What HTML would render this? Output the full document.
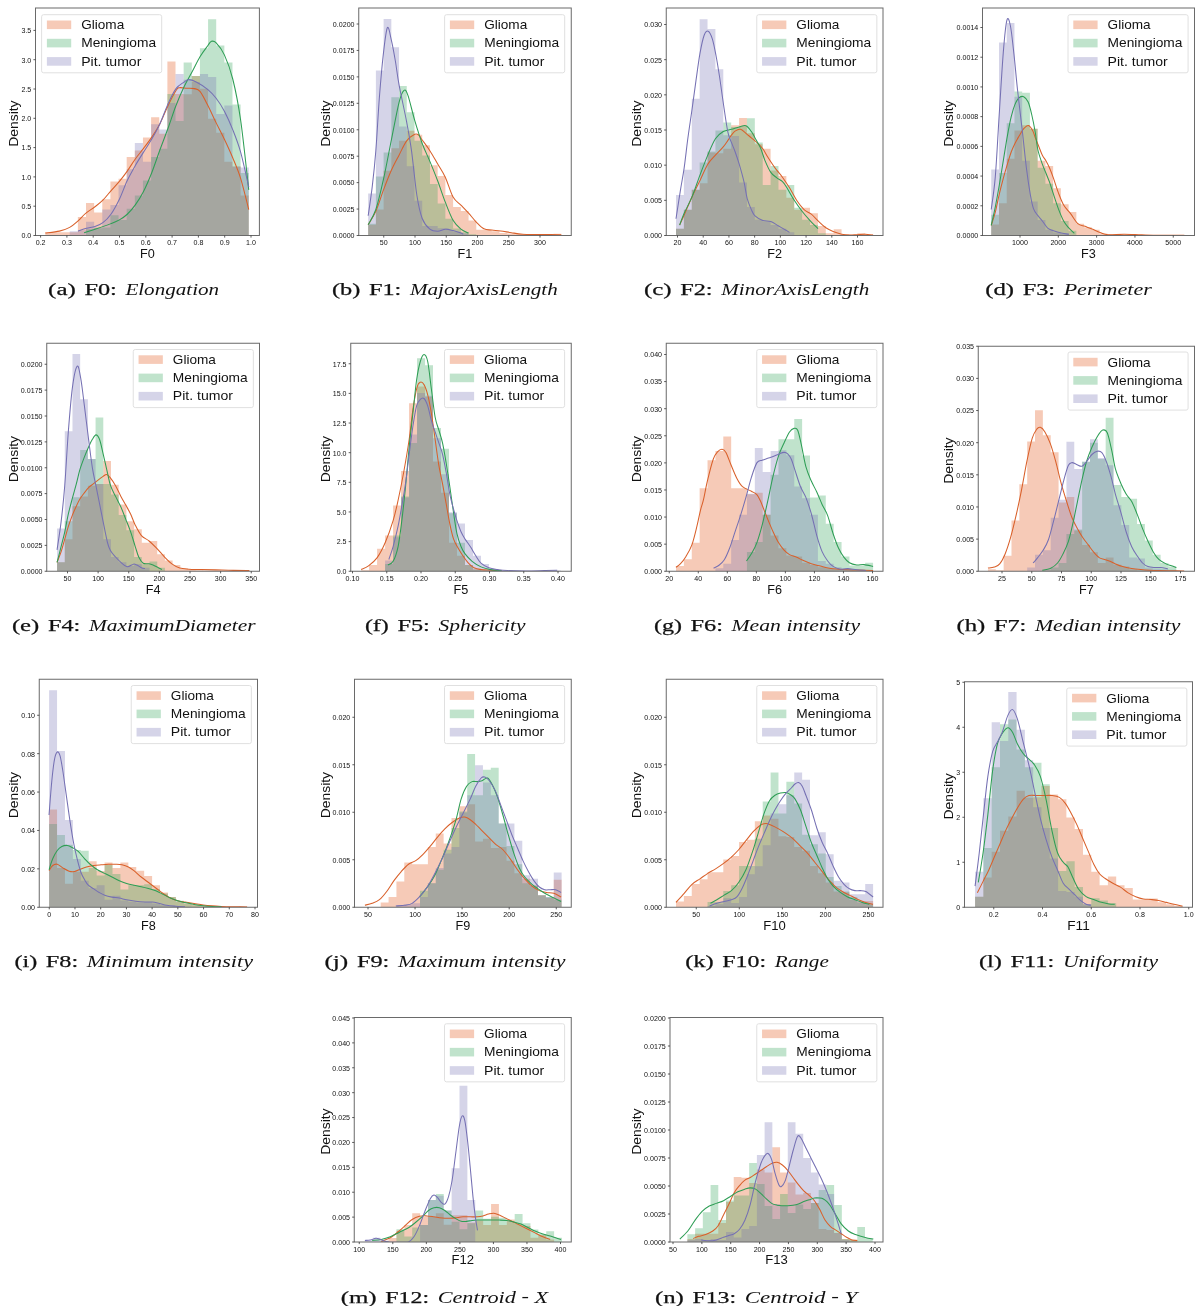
<!DOCTYPE html>
<html><head><meta charset="utf-8"><style>
html,body{margin:0;padding:0;background:#fff;overflow:hidden;}
svg{display:block;will-change:transform;}
text{font-family:"Liberation Sans", sans-serif;fill:#111;}
text.cb{font-family:"Liberation Serif", serif;font-weight:normal;stroke:#111;stroke-width:0.25px;}
text.ci{font-family:"Liberation Serif", serif;font-style:italic;}
</style></head><body>
<svg width="1200" height="1306" viewBox="0 0 1200 1306">
<rect width="1200" height="1306" fill="#fff"/>
<clipPath id="ca"><rect x="35.5" y="8" width="223.9" height="227.5"/></clipPath>
<g clip-path="url(#ca)">
<path d="M45.31 232.25H53.45V235.5H45.31ZM53.45 232.25H61.59V235.5H53.45ZM61.59 232.25H69.73V235.5H61.59ZM69.73 232.25H77.86V235.5H69.73ZM77.86 217.06H86V235.5H77.86ZM86 203H94.14V235.5H86ZM94.14 212.38H102.28V235.5H94.14ZM102.28 199.25H110.41V235.5H102.28ZM110.41 181.44H118.55V235.5H110.41ZM118.55 178.63H126.69V235.5H118.55ZM126.69 157.06H134.83V235.5H126.69ZM134.83 150.5H142.96V235.5H134.83ZM142.96 137.38H151.1V235.5H142.96ZM151.1 117.13H159.24V235.5H151.1ZM159.24 133.63H167.38V235.5H159.24ZM167.38 61.44H175.51V235.5H167.38ZM175.51 94.06H183.65V235.5H175.51ZM183.65 94.25H191.79V235.5H183.65ZM191.79 76.06H199.93V235.5H191.79ZM199.93 88.63H208.06V235.5H199.93ZM208.06 118.63H216.2V235.5H208.06ZM216.2 132.69H224.34V235.5H216.2ZM224.34 161.75H232.48V235.5H224.34ZM232.48 166.44H240.61V235.5H232.48ZM240.61 195.5H248.75V235.5H240.61Z" fill="#e14e12" fill-opacity="0.3"/>
<path d="M86 229.25H94.14V235.5H86ZM94.14 228.31H102.28V235.5H94.14ZM102.28 227.38H110.41V235.5H102.28ZM110.41 215.19H118.55V235.5H110.41ZM118.55 219.88H126.69V235.5H118.55ZM126.69 208.63H134.83V235.5H126.69ZM134.83 195.5H142.96V235.5H134.83ZM142.96 180.5H151.1V235.5H142.96ZM151.1 157.06H159.24V235.5H151.1ZM159.24 148.63H167.38V235.5H159.24ZM167.38 94.06H175.51V235.5H167.38ZM175.51 121.06H183.65V235.5H175.51ZM183.65 62.38H191.79V235.5H183.65ZM191.79 76.06H199.93V235.5H191.79ZM199.93 48.31H208.06V235.5H199.93ZM208.06 19.25H216.2V235.5H208.06ZM216.2 45.5H224.34V235.5H216.2ZM224.34 62.38H232.48V235.5H224.34ZM232.48 104.56H240.61V235.5H232.48ZM240.61 173H248.75V235.5H240.61Z" fill="#2da255" fill-opacity="0.3"/>
<path d="M69.73 231.13H77.86V235.5H69.73ZM77.86 230.19H86V235.5H77.86ZM86 221.75H94.14V235.5H86ZM94.14 227.38H102.28V235.5H94.14ZM102.28 209.56H110.41V235.5H102.28ZM110.41 204.88H118.55V235.5H110.41ZM118.55 185.19H126.69V235.5H118.55ZM126.69 169.25H134.83V235.5H126.69ZM134.83 143H142.96V235.5H134.83ZM142.96 161.75H151.1V235.5H142.96ZM151.1 124.25H159.24V235.5H151.1ZM159.24 129.5H167.38V235.5H159.24ZM167.38 103.06H175.51V235.5H167.38ZM175.51 74H183.65V235.5H175.51ZM183.65 79.81H191.79V235.5H183.65ZM191.79 82.06H199.93V235.5H191.79ZM199.93 74H208.06V235.5H199.93ZM208.06 77H216.2V235.5H208.06ZM216.2 113.94H224.34V235.5H216.2ZM224.34 105.5H232.48V235.5H224.34ZM232.48 166.44H240.61V235.5H232.48ZM240.61 167.38H248.75V235.5H240.61Z" fill="#7570b3" fill-opacity="0.3"/>
<path d="M45.31 233C47.66 232.69 55.31 232.06 59.38 231.13C63.44 230.19 66.56 229.1 69.69 227.38C72.81 225.66 75.47 223.16 78.13 220.81C80.78 218.47 82.81 215.66 85.63 213.31C88.44 210.97 92.13 208.94 95 206.75C97.88 204.56 100.22 202.84 102.88 200.19C105.53 197.53 108.19 193.94 110.94 190.81C113.69 187.69 116.66 184.72 119.38 181.44C122.09 178.16 124.59 174.88 127.25 171.13C129.91 167.38 132.63 162.69 135.31 158.94C138 155.19 140.66 152.22 143.38 148.63C146.09 145.03 148.91 141.44 151.63 137.38C154.34 133.31 156.94 129.56 159.69 124.25C162.44 118.94 165.41 111.13 168.13 105.5C170.84 99.88 174.13 93.47 176 90.5C177.88 87.53 177.56 88.06 179.38 87.69C181.19 87.31 184.38 88.09 186.88 88.25C189.38 88.41 192.19 88.09 194.38 88.63C196.56 89.16 197.75 88.63 200 91.44C202.25 94.25 205.22 100.34 207.88 105.5C210.53 110.66 213.19 116.75 215.94 122.38C218.69 128 221.56 133.31 224.38 139.25C227.19 145.19 230.09 151.44 232.81 158C235.53 164.56 238.03 170.03 240.69 178.63C243.35 187.22 247.41 204.41 248.75 209.56" fill="none" stroke="#d9602a" stroke-width="1.05" stroke-linejoin="round"/>
<path d="M84.13 232.63C85.94 232.06 90.53 230.75 95 229.25C99.47 227.75 106.88 225.19 110.94 223.63C115 222.06 116.66 221.44 119.38 219.88C122.09 218.31 124.59 216.75 127.25 214.25C129.91 211.75 132.63 208.63 135.31 204.88C138 201.13 140.66 197.06 143.38 191.75C146.09 186.44 148.91 179.88 151.63 173C154.34 166.13 156.94 158 159.69 150.5C162.44 143 165.41 135.5 168.13 128C170.84 120.5 173.34 112.38 176 105.5C178.66 98.63 181.38 92.38 184.06 86.75C186.75 81.13 189.47 76.75 192.13 71.75C194.78 66.75 197.38 61.13 200 56.75C202.63 52.38 206 48.06 207.88 45.5C209.75 42.94 209.91 41.84 211.25 41.38C212.59 40.91 213.75 40.44 215.94 42.69C218.13 44.94 221.56 48.78 224.38 54.88C227.19 60.97 230.09 68.31 232.81 79.25C235.53 90.19 238.03 102.06 240.69 120.5C243.35 138.94 247.41 178.31 248.75 189.88" fill="none" stroke="#2e9e55" stroke-width="1.05" stroke-linejoin="round"/>
<path d="M78.13 231.13C79.53 230.66 83.75 229.1 86.56 228.31C89.38 227.53 92.28 227.38 95 226.44C97.72 225.5 100.22 224.72 102.88 222.69C105.53 220.66 108.19 218.16 110.94 214.25C113.69 210.35 116.66 204.88 119.38 199.25C122.09 193.63 124.59 186.13 127.25 180.5C129.91 174.88 132.63 170.19 135.31 165.5C138 160.81 140.66 156.75 143.38 152.38C146.09 148 148.91 143.94 151.63 139.25C154.34 134.56 156.94 130.19 159.69 124.25C162.44 118.31 165.41 109.56 168.13 103.63C170.84 97.69 173.34 92.22 176 88.63C178.66 85.03 181.94 83.56 184.06 82.06C186.19 80.56 186.72 79.63 188.75 79.63C190.78 79.63 193.06 80.41 196.25 82.06C199.44 83.72 204.59 86.91 207.88 89.56C211.16 92.22 213.19 94.41 215.94 98C218.69 101.59 221.56 105.81 224.38 111.13C227.19 116.44 230.09 123 232.81 129.88C235.53 136.75 238.03 142.84 240.69 152.38C243.35 161.91 247.41 181.28 248.75 187.06" fill="none" stroke="#7570b3" stroke-width="1.05" stroke-linejoin="round"/>
</g>
<rect x="35.5" y="8" width="223.9" height="227.5" fill="none" stroke="#6a6a6a" stroke-width="1"/>
<text x="40.6" y="245" text-anchor="middle" font-size="6.4" textLength="9.86" lengthAdjust="spacingAndGlyphs">0.2</text>
<text x="66.9" y="245" text-anchor="middle" font-size="6.4" textLength="9.86" lengthAdjust="spacingAndGlyphs">0.3</text>
<text x="93.2" y="245" text-anchor="middle" font-size="6.4" textLength="9.86" lengthAdjust="spacingAndGlyphs">0.4</text>
<text x="119.5" y="245" text-anchor="middle" font-size="6.4" textLength="9.86" lengthAdjust="spacingAndGlyphs">0.5</text>
<text x="145.8" y="245" text-anchor="middle" font-size="6.4" textLength="9.86" lengthAdjust="spacingAndGlyphs">0.6</text>
<text x="172.1" y="245" text-anchor="middle" font-size="6.4" textLength="9.86" lengthAdjust="spacingAndGlyphs">0.7</text>
<text x="198.4" y="245" text-anchor="middle" font-size="6.4" textLength="9.86" lengthAdjust="spacingAndGlyphs">0.8</text>
<text x="224.7" y="245" text-anchor="middle" font-size="6.4" textLength="9.86" lengthAdjust="spacingAndGlyphs">0.9</text>
<text x="251" y="245" text-anchor="middle" font-size="6.4" textLength="9.86" lengthAdjust="spacingAndGlyphs">1.0</text>
<text x="31.3" y="238.35" text-anchor="end" font-size="6.4" textLength="9.86" lengthAdjust="spacingAndGlyphs">0.0</text>
<text x="31.3" y="209.05" text-anchor="end" font-size="6.4" textLength="9.86" lengthAdjust="spacingAndGlyphs">0.5</text>
<text x="31.3" y="179.75" text-anchor="end" font-size="6.4" textLength="9.86" lengthAdjust="spacingAndGlyphs">1.0</text>
<text x="31.3" y="150.45" text-anchor="end" font-size="6.4" textLength="9.86" lengthAdjust="spacingAndGlyphs">1.5</text>
<text x="31.3" y="121.15" text-anchor="end" font-size="6.4" textLength="9.86" lengthAdjust="spacingAndGlyphs">2.0</text>
<text x="31.3" y="91.85" text-anchor="end" font-size="6.4" textLength="9.86" lengthAdjust="spacingAndGlyphs">2.5</text>
<text x="31.3" y="62.55" text-anchor="end" font-size="6.4" textLength="9.86" lengthAdjust="spacingAndGlyphs">3.0</text>
<text x="31.3" y="33.25" text-anchor="end" font-size="6.4" textLength="9.86" lengthAdjust="spacingAndGlyphs">3.5</text>
<path d="M40.6 235.5v2.1M66.9 235.5v2.1M93.2 235.5v2.1M119.5 235.5v2.1M145.8 235.5v2.1M172.1 235.5v2.1M198.4 235.5v2.1M224.7 235.5v2.1M251 235.5v2.1M35.5 235.5h-2.1M35.5 206.2h-2.1M35.5 176.9h-2.1M35.5 147.6h-2.1M35.5 118.3h-2.1M35.5 89h-2.1M35.5 59.7h-2.1M35.5 30.4h-2.1" stroke="#333" stroke-width="0.8"/>
<text x="147.45" y="257.8" text-anchor="middle" font-size="13.4" textLength="14.77" lengthAdjust="spacingAndGlyphs">F0</text>
<text transform="translate(17.75 123.65) rotate(-90)" x="0" y="0" text-anchor="middle" font-size="13.4" textLength="46.38" lengthAdjust="spacingAndGlyphs">Density</text>
<rect x="41.6" y="14.7" width="120.1" height="58.1" rx="2" fill="#fff" fill-opacity="0.8" stroke="#dcdcdc" stroke-width="0.9"/>
<rect x="46.9" y="20.5" width="24.3" height="8.6" fill="#e14e12" fill-opacity="0.3"/>
<text x="81.2" y="29.2" font-size="12.9" textLength="43.07" lengthAdjust="spacingAndGlyphs">Glioma</text>
<rect x="46.9" y="38.8" width="24.3" height="8.6" fill="#2da255" fill-opacity="0.3"/>
<text x="81.2" y="47.4" font-size="12.9" textLength="74.86" lengthAdjust="spacingAndGlyphs">Meningioma</text>
<rect x="46.9" y="57.1" width="24.3" height="8.6" fill="#7570b3" fill-opacity="0.3"/>
<text x="81.2" y="65.6" font-size="12.9" textLength="60.17" lengthAdjust="spacingAndGlyphs">Pit. tumor</text>
<text class="cb" x="48.1" y="295" font-size="17.6" textLength="27.7" lengthAdjust="spacingAndGlyphs">(a)</text>
<text class="cb" x="84.4" y="295" font-size="17.6" textLength="32.4" lengthAdjust="spacingAndGlyphs">F0:</text>
<text class="ci" x="125.4" y="295" font-size="17.6" textLength="93.7" lengthAdjust="spacingAndGlyphs">Elongation</text>
<clipPath id="cb"><rect x="358.75" y="8" width="212.5" height="227.5"/></clipPath>
<g clip-path="url(#cb)">
<path d="M368.17 224.69H375.89V235.5H368.17ZM375.89 209.53H383.61V235.5H375.89ZM383.61 170.65H391.33V235.5H383.61ZM391.33 148.18H399.06V235.5H391.33ZM399.06 140.87H406.78V235.5H399.06ZM406.78 130.7H414.5V235.5H406.78ZM414.5 134.63H422.22V235.5H414.5ZM422.22 145.33H429.95V235.5H422.22ZM429.95 165.3H437.67V235.5H429.95ZM437.67 176H445.39V235.5H437.67ZM445.39 195.09H453.11V235.5H445.39ZM453.11 207.04H460.84V235.5H453.11ZM460.84 210.96H468.56V235.5H460.84ZM468.56 220.41H476.28V235.5H468.56ZM476.28 229.69H484V235.5H476.28ZM484 230.04H491.73V235.5H484ZM491.73 231.29H499.45V235.5H491.73ZM499.45 233.08H507.17V235.5H499.45ZM507.17 233.43H514.89V235.5H507.17ZM514.89 233.79H522.62V235.5H514.89ZM522.62 234.15H530.34V235.5H522.62ZM530.34 234.15H538.06V235.5H530.34ZM538.06 234.5H545.78V235.5H538.06ZM545.78 234.5H553.51V235.5H545.78ZM553.51 233.79H561.23V235.5H553.51Z" fill="#e14e12" fill-opacity="0.3"/>
<path d="M368.17 223.8H375.89V235.5H368.17ZM375.89 176.54H383.61V235.5H375.89ZM383.61 152.46H391.33V235.5H383.61ZM391.33 97.17H399.06V235.5H391.33ZM399.06 86.12H406.78V235.5H399.06ZM406.78 112.33H414.5V235.5H406.78ZM414.5 140.87H422.22V235.5H414.5ZM422.22 155.49H429.95V235.5H422.22ZM429.95 184.03H437.67V235.5H429.95ZM437.67 203.47H445.39V235.5H437.67ZM445.39 218.63H453.11V235.5H445.39ZM453.11 228.44H460.84V235.5H453.11ZM460.84 232.36H468.56V235.5H460.84ZM468.56 234.15H476.28V235.5H468.56Z" fill="#2da255" fill-opacity="0.3"/>
<path d="M368.17 193.48H375.89V235.5H368.17ZM375.89 70.42H383.61V235.5H375.89ZM383.61 19.06H391.33V235.5H383.61ZM391.33 47.24H399.06V235.5H391.33ZM399.06 126.6H406.78V235.5H399.06ZM406.78 166.2H414.5V235.5H406.78ZM414.5 200.79H422.22V235.5H414.5ZM422.22 226.12H429.95V235.5H422.22ZM429.95 226.12H437.67V235.5H429.95ZM437.67 228.26H445.39V235.5H437.67ZM445.39 230.04H453.11V235.5H445.39ZM453.11 231.83H460.84V235.5H453.11ZM460.84 233.61H468.56V235.5H460.84Z" fill="#7570b3" fill-opacity="0.3"/>
<path d="M368.17 224.69C369.44 222.46 373.28 217.11 375.83 211.32C378.39 205.52 380.92 196.75 383.5 189.92C386.09 183.08 388.77 176.09 391.35 170.3C393.94 164.5 396.46 160.04 399.02 155.14C401.58 150.23 404.07 144.35 406.69 140.87C409.3 137.39 412.72 135.25 414.71 134.27C416.71 133.29 417.39 134.03 418.64 134.98C419.89 135.94 420.33 137.36 422.21 139.98C424.08 142.59 427.29 146.67 429.87 150.68C432.46 154.69 435.14 159.6 437.72 164.05C440.31 168.51 442.83 171.93 445.39 177.43C447.95 182.93 450.47 192.44 453.06 197.05C455.65 201.66 458.32 202.4 460.91 205.08C463.49 207.75 466.02 210.28 468.58 213.1C471.13 215.92 473.69 219.4 476.25 222.02C478.8 224.63 481.33 227.46 483.91 228.8C486.5 230.13 488.97 229.69 491.76 230.04C494.56 230.4 497.41 230.49 500.68 230.94C503.95 231.38 507.81 232.18 511.38 232.72C514.95 233.25 517.92 233.85 522.08 234.15C526.24 234.44 531.59 234.44 536.35 234.5C541.1 234.56 546.45 234.44 550.62 234.5C554.78 234.56 559.53 234.8 561.32 234.86" fill="none" stroke="#d9602a" stroke-width="1.05" stroke-linejoin="round"/>
<path d="M368.17 224.69C369.44 222.17 373.28 217.11 375.83 209.53C378.39 201.95 380.92 190.81 383.5 179.21C386.09 167.62 388.77 152.76 391.35 139.98C393.94 127.2 396.91 110.79 399.02 102.52C401.13 94.26 402.53 91.59 404.01 90.4C405.5 89.21 406.15 90.4 407.94 95.39C409.72 100.38 412.34 112.33 414.71 120.36C417.09 128.39 419.68 136.71 422.21 143.54C424.73 150.38 427.29 155.14 429.87 161.38C432.46 167.62 435.14 174.16 437.72 181C440.31 187.83 442.83 195.86 445.39 202.4C447.95 208.94 450.47 215.78 453.06 220.23C455.65 224.69 458.32 227.01 460.91 229.15C463.49 231.29 467.3 232.42 468.58 233.08" fill="none" stroke="#2e9e55" stroke-width="1.05" stroke-linejoin="round"/>
<path d="M368.17 215.78C368.85 210.87 370.99 197.2 372.27 186.35C373.55 175.5 374.65 165.54 375.83 150.68C377.02 135.82 378.12 113.52 379.4 97.17C380.68 80.83 382.17 64.18 383.5 52.59C384.84 40.99 386.12 29.7 387.43 27.62C388.74 25.54 390.01 34.46 391.35 40.1C392.69 45.75 394.18 54.07 395.45 61.5C396.73 68.94 397.15 74.58 399.02 84.69C400.89 94.8 404.61 111.14 406.69 122.14C408.77 133.14 409.81 138.49 411.5 150.68C413.2 162.87 415.07 183.97 416.86 195.27C418.64 206.56 420.04 212.8 422.21 218.45C424.38 224.1 427.29 227.01 429.87 229.15C432.46 231.29 435.14 231.29 437.72 231.29C440.31 231.29 442.83 229.27 445.39 229.15C447.95 229.03 450.47 229.92 453.06 230.58C455.65 231.23 459.21 232.48 460.91 233.08C462.6 233.67 462.84 233.97 463.23 234.15" fill="none" stroke="#7570b3" stroke-width="1.05" stroke-linejoin="round"/>
</g>
<rect x="358.75" y="8" width="212.5" height="227.5" fill="none" stroke="#6a6a6a" stroke-width="1"/>
<text x="383.75" y="245" text-anchor="middle" font-size="6.4" textLength="7.89" lengthAdjust="spacingAndGlyphs">50</text>
<text x="415" y="245" text-anchor="middle" font-size="6.4" textLength="11.83" lengthAdjust="spacingAndGlyphs">100</text>
<text x="446.25" y="245" text-anchor="middle" font-size="6.4" textLength="11.83" lengthAdjust="spacingAndGlyphs">150</text>
<text x="477.5" y="245" text-anchor="middle" font-size="6.4" textLength="11.83" lengthAdjust="spacingAndGlyphs">200</text>
<text x="508.75" y="245" text-anchor="middle" font-size="6.4" textLength="11.83" lengthAdjust="spacingAndGlyphs">250</text>
<text x="540" y="245" text-anchor="middle" font-size="6.4" textLength="11.83" lengthAdjust="spacingAndGlyphs">300</text>
<text x="354.55" y="238.35" text-anchor="end" font-size="6.4" textLength="21.69" lengthAdjust="spacingAndGlyphs">0.0000</text>
<text x="354.55" y="211.91" text-anchor="end" font-size="6.4" textLength="21.69" lengthAdjust="spacingAndGlyphs">0.0025</text>
<text x="354.55" y="185.47" text-anchor="end" font-size="6.4" textLength="21.69" lengthAdjust="spacingAndGlyphs">0.0050</text>
<text x="354.55" y="159.04" text-anchor="end" font-size="6.4" textLength="21.69" lengthAdjust="spacingAndGlyphs">0.0075</text>
<text x="354.55" y="132.6" text-anchor="end" font-size="6.4" textLength="21.69" lengthAdjust="spacingAndGlyphs">0.0100</text>
<text x="354.55" y="106.16" text-anchor="end" font-size="6.4" textLength="21.69" lengthAdjust="spacingAndGlyphs">0.0125</text>
<text x="354.55" y="79.72" text-anchor="end" font-size="6.4" textLength="21.69" lengthAdjust="spacingAndGlyphs">0.0150</text>
<text x="354.55" y="53.29" text-anchor="end" font-size="6.4" textLength="21.69" lengthAdjust="spacingAndGlyphs">0.0175</text>
<text x="354.55" y="26.85" text-anchor="end" font-size="6.4" textLength="21.69" lengthAdjust="spacingAndGlyphs">0.0200</text>
<path d="M383.75 235.5v2.1M415 235.5v2.1M446.25 235.5v2.1M477.5 235.5v2.1M508.75 235.5v2.1M540 235.5v2.1M358.75 235.5h-2.1M358.75 209.06h-2.1M358.75 182.62h-2.1M358.75 156.19h-2.1M358.75 129.75h-2.1M358.75 103.31h-2.1M358.75 76.88h-2.1M358.75 50.44h-2.1M358.75 24h-2.1" stroke="#333" stroke-width="0.8"/>
<text x="465" y="257.8" text-anchor="middle" font-size="13.4" textLength="14.77" lengthAdjust="spacingAndGlyphs">F1</text>
<text transform="translate(329.5 123.65) rotate(-90)" x="0" y="0" text-anchor="middle" font-size="13.4" textLength="46.38" lengthAdjust="spacingAndGlyphs">Density</text>
<rect x="444.6" y="14.7" width="120.1" height="58.1" rx="2" fill="#fff" fill-opacity="0.8" stroke="#dcdcdc" stroke-width="0.9"/>
<rect x="449.9" y="20.5" width="24.3" height="8.6" fill="#e14e12" fill-opacity="0.3"/>
<text x="484.2" y="29.2" font-size="12.9" textLength="43.07" lengthAdjust="spacingAndGlyphs">Glioma</text>
<rect x="449.9" y="38.8" width="24.3" height="8.6" fill="#2da255" fill-opacity="0.3"/>
<text x="484.2" y="47.4" font-size="12.9" textLength="74.86" lengthAdjust="spacingAndGlyphs">Meningioma</text>
<rect x="449.9" y="57.1" width="24.3" height="8.6" fill="#7570b3" fill-opacity="0.3"/>
<text x="484.2" y="65.6" font-size="12.9" textLength="60.17" lengthAdjust="spacingAndGlyphs">Pit. tumor</text>
<text class="cb" x="331.9" y="295" font-size="17.6" textLength="28.4" lengthAdjust="spacingAndGlyphs">(b)</text>
<text class="cb" x="368.9" y="295" font-size="17.6" textLength="32.4" lengthAdjust="spacingAndGlyphs">F1:</text>
<text class="ci" x="409.9" y="295" font-size="17.6" textLength="147.9" lengthAdjust="spacingAndGlyphs">MajorAxisLength</text>
<clipPath id="cc"><rect x="666.25" y="8" width="216.75" height="227.5"/></clipPath>
<g clip-path="url(#cc)">
<path d="M675.99 228.71H683.87V235.5H675.99ZM683.87 209.63H691.76V235.5H683.87ZM691.76 189.65H699.64V235.5H691.76ZM699.64 183.3H707.53V235.5H699.64ZM707.53 152.41H715.41V235.5H707.53ZM715.41 153.32H723.29V235.5H715.41ZM723.29 148.78H731.18V235.5H723.29ZM731.18 125.17H739.06V235.5H731.18ZM739.06 117.9H746.94V235.5H739.06ZM746.94 133.34H754.83V235.5H746.94ZM754.83 144.24H762.71V235.5H754.83ZM762.71 148.78H770.6V235.5H762.71ZM770.6 170.58H778.48V235.5H770.6ZM778.48 176.03H786.36V235.5H778.48ZM786.36 197.83H794.25V235.5H786.36ZM794.25 209.63H802.13V235.5H794.25ZM802.13 207.82H810.01V235.5H802.13ZM810.01 213.27H817.9V235.5H810.01ZM817.9 225.98H825.78V235.5H817.9ZM825.78 233.25H833.67V235.5H825.78ZM833.67 229.25H841.55V235.5H833.67ZM841.55 234.16H849.43V235.5H841.55ZM849.43 234.7H857.32V235.5H849.43ZM857.32 233.25H865.2V235.5H857.32ZM865.2 234.16H873.08V235.5H865.2Z" fill="#e14e12" fill-opacity="0.3"/>
<path d="M675.99 228.71H683.87V235.5H675.99ZM683.87 209.63H691.76V235.5H683.87ZM691.76 189.65H699.64V235.5H691.76ZM699.64 162.41H707.53V235.5H699.64ZM707.53 151.51H715.41V235.5H707.53ZM715.41 130.62H723.29V235.5H715.41ZM723.29 122.44H731.18V235.5H723.29ZM731.18 126.98H739.06V235.5H731.18ZM739.06 126.07H746.94V235.5H739.06ZM746.94 118.26H754.83V235.5H746.94ZM754.83 142.42H762.71V235.5H754.83ZM762.71 185.11H770.6V235.5H762.71ZM770.6 166.04H778.48V235.5H770.6ZM778.48 189.65H786.36V235.5H778.48ZM786.36 185.11H794.25V235.5H786.36ZM794.25 207.82H802.13V235.5H794.25ZM802.13 219.63H810.01V235.5H802.13ZM810.01 225.08H817.9V235.5H810.01ZM817.9 233.25H825.78V235.5H817.9Z" fill="#2da255" fill-opacity="0.3"/>
<path d="M675.99 195.1H683.87V235.5H675.99ZM683.87 169.67H691.76V235.5H683.87ZM691.76 98.83H699.64V235.5H691.76ZM699.64 19.26H707.53V235.5H699.64ZM707.53 28.89H715.41V235.5H707.53ZM715.41 69.22H723.29V235.5H715.41ZM723.29 135.16H731.18V235.5H723.29ZM731.18 136.07H739.06V235.5H731.18ZM739.06 182.39H746.94V235.5H739.06ZM746.94 206.91H754.83V235.5H746.94ZM754.83 219.63H762.71V235.5H754.83ZM762.71 221.44H770.6V235.5H762.71ZM770.6 225.08H778.48V235.5H770.6ZM778.48 228.71H786.36V235.5H778.48ZM786.36 232.34H794.25V235.5H786.36Z" fill="#7570b3" fill-opacity="0.3"/>
<path d="M679.62 225.08C680.38 223.41 682.11 219.78 684.17 215.08C686.22 210.39 689.34 202.67 691.98 196.92C694.61 191.17 697.34 186.02 699.97 180.57C702.6 175.12 705.21 168.46 707.78 164.22C710.35 159.98 712.84 158.02 715.41 155.14C717.98 152.26 721.16 149.39 723.22 146.96C725.28 144.54 726.4 142.57 727.76 140.61C729.12 138.64 730.18 136.73 731.4 135.16C732.61 133.58 733.51 132.13 735.03 131.16C736.54 130.19 738.66 128.98 740.48 129.34C742.29 129.71 744.11 131.92 745.93 133.34C747.74 134.76 749.56 136.37 751.38 137.88C753.19 139.4 754.92 140.61 756.83 142.42C758.73 144.24 761 146.36 762.82 148.78C764.64 151.2 765.7 153.78 767.73 156.96C769.75 160.13 772.57 164.52 774.99 167.85C777.41 171.18 779.84 173.61 782.26 176.94C784.68 180.27 787.1 183.9 789.52 187.84C791.95 191.77 794.37 196.92 796.79 200.55C799.21 204.19 801.63 207.36 804.06 209.63C806.48 211.91 808.9 212.21 811.32 214.18C813.74 216.14 816.17 219.17 818.59 221.44C821.01 223.71 823.43 226.14 825.85 227.8C828.28 229.47 830.49 230.37 833.12 231.43C835.75 232.49 838.93 233.55 841.66 234.16C844.38 234.76 846.87 234.98 849.47 235.07C852.07 235.16 854.65 234.82 857.28 234.7C859.91 234.58 862.64 234.28 865.27 234.34C867.91 234.4 871.78 234.95 873.08 235.07" fill="none" stroke="#d9602a" stroke-width="1.05" stroke-linejoin="round"/>
<path d="M679.62 225.08C680.38 223.11 682.11 217.96 684.17 213.27C686.22 208.58 689.34 203.28 691.98 196.92C694.61 190.56 697.34 182.08 699.97 175.12C702.6 168.16 705.21 161.19 707.78 155.14C710.35 149.08 712.84 142.73 715.41 138.79C717.98 134.85 720.56 133.1 723.22 131.52C725.88 129.95 728.73 130.1 731.4 129.34C734.06 128.59 736.78 127.59 739.21 126.98C741.63 126.38 743.9 124.95 745.93 125.71C747.96 126.47 749.86 129.5 751.38 131.52C752.89 133.55 753.5 135.16 755.01 137.88C756.52 140.61 758.79 144.09 760.46 147.87C762.12 151.66 763.28 156.5 765 160.59C766.73 164.68 768.85 169.52 770.81 172.4C772.78 175.27 774.9 176.33 776.81 177.85C778.72 179.36 780.65 179.96 782.26 181.48C783.86 182.99 784.41 183.75 786.44 186.93C788.46 190.11 791.79 196.47 794.43 200.55C797.06 204.64 799.64 208.12 802.24 211.45C804.84 214.78 807.42 217.66 810.05 220.53C812.68 223.41 816.71 227.35 818.04 228.71" fill="none" stroke="#2e9e55" stroke-width="1.05" stroke-linejoin="round"/>
<path d="M675.99 218.72C676.75 213.87 679.17 198.13 680.53 189.65C681.89 181.18 682.95 176.33 684.17 167.85C685.38 159.38 686.5 148.48 687.8 138.79C689.1 129.1 690.61 119.41 691.98 109.73C693.34 100.04 694.64 90.05 695.97 80.66C697.3 71.28 698.61 60.98 699.97 53.41C701.33 45.84 702.78 38.94 704.15 35.25C705.51 31.55 706.78 30.65 708.14 31.25C709.51 31.86 711.02 34.88 712.32 38.88C713.62 42.88 714.74 48.87 715.95 55.23C717.17 61.59 718.38 69.16 719.59 77.03C720.8 84.9 721.86 93.38 723.22 102.46C724.58 111.54 726.4 124.86 727.76 131.52C729.12 138.18 730.18 139.09 731.4 142.42C732.61 145.75 733.73 147.87 735.03 151.51C736.33 155.14 737.69 159.07 739.21 164.22C740.72 169.37 742.78 176.63 744.11 182.39C745.44 188.14 745.99 194.19 747.2 198.74C748.41 203.28 750.08 206.76 751.38 209.63C752.68 212.51 753.1 214.18 755.01 215.99C756.92 217.81 760.19 219.63 762.82 220.53C765.46 221.44 768.18 220.53 770.81 221.44C773.45 222.35 776.02 224.47 778.62 225.98C781.23 227.5 784.62 229.47 786.44 230.52C788.25 231.58 789.01 232.04 789.52 232.34" fill="none" stroke="#7570b3" stroke-width="1.05" stroke-linejoin="round"/>
</g>
<rect x="666.25" y="8" width="216.75" height="227.5" fill="none" stroke="#6a6a6a" stroke-width="1"/>
<text x="677.5" y="245" text-anchor="middle" font-size="6.4" textLength="7.89" lengthAdjust="spacingAndGlyphs">20</text>
<text x="703.21" y="245" text-anchor="middle" font-size="6.4" textLength="7.89" lengthAdjust="spacingAndGlyphs">40</text>
<text x="728.93" y="245" text-anchor="middle" font-size="6.4" textLength="7.89" lengthAdjust="spacingAndGlyphs">60</text>
<text x="754.64" y="245" text-anchor="middle" font-size="6.4" textLength="7.89" lengthAdjust="spacingAndGlyphs">80</text>
<text x="780.36" y="245" text-anchor="middle" font-size="6.4" textLength="11.83" lengthAdjust="spacingAndGlyphs">100</text>
<text x="806.07" y="245" text-anchor="middle" font-size="6.4" textLength="11.83" lengthAdjust="spacingAndGlyphs">120</text>
<text x="831.79" y="245" text-anchor="middle" font-size="6.4" textLength="11.83" lengthAdjust="spacingAndGlyphs">140</text>
<text x="857.5" y="245" text-anchor="middle" font-size="6.4" textLength="11.83" lengthAdjust="spacingAndGlyphs">160</text>
<text x="662.05" y="238.35" text-anchor="end" font-size="6.4" textLength="17.74" lengthAdjust="spacingAndGlyphs">0.000</text>
<text x="662.05" y="203.18" text-anchor="end" font-size="6.4" textLength="17.74" lengthAdjust="spacingAndGlyphs">0.005</text>
<text x="662.05" y="168.02" text-anchor="end" font-size="6.4" textLength="17.74" lengthAdjust="spacingAndGlyphs">0.010</text>
<text x="662.05" y="132.85" text-anchor="end" font-size="6.4" textLength="17.74" lengthAdjust="spacingAndGlyphs">0.015</text>
<text x="662.05" y="97.68" text-anchor="end" font-size="6.4" textLength="17.74" lengthAdjust="spacingAndGlyphs">0.020</text>
<text x="662.05" y="62.52" text-anchor="end" font-size="6.4" textLength="17.74" lengthAdjust="spacingAndGlyphs">0.025</text>
<text x="662.05" y="27.35" text-anchor="end" font-size="6.4" textLength="17.74" lengthAdjust="spacingAndGlyphs">0.030</text>
<path d="M677.5 235.5v2.1M703.21 235.5v2.1M728.93 235.5v2.1M754.64 235.5v2.1M780.36 235.5v2.1M806.07 235.5v2.1M831.79 235.5v2.1M857.5 235.5v2.1M666.25 235.5h-2.1M666.25 200.33h-2.1M666.25 165.17h-2.1M666.25 130h-2.1M666.25 94.83h-2.1M666.25 59.67h-2.1M666.25 24.5h-2.1" stroke="#333" stroke-width="0.8"/>
<text x="774.62" y="257.8" text-anchor="middle" font-size="13.4" textLength="14.77" lengthAdjust="spacingAndGlyphs">F2</text>
<text transform="translate(641 123.65) rotate(-90)" x="0" y="0" text-anchor="middle" font-size="13.4" textLength="46.38" lengthAdjust="spacingAndGlyphs">Density</text>
<rect x="756.75" y="14.7" width="120.1" height="58.1" rx="2" fill="#fff" fill-opacity="0.8" stroke="#dcdcdc" stroke-width="0.9"/>
<rect x="762.05" y="20.5" width="24.3" height="8.6" fill="#e14e12" fill-opacity="0.3"/>
<text x="796.35" y="29.2" font-size="12.9" textLength="43.07" lengthAdjust="spacingAndGlyphs">Glioma</text>
<rect x="762.05" y="38.8" width="24.3" height="8.6" fill="#2da255" fill-opacity="0.3"/>
<text x="796.35" y="47.4" font-size="12.9" textLength="74.86" lengthAdjust="spacingAndGlyphs">Meningioma</text>
<rect x="762.05" y="57.1" width="24.3" height="8.6" fill="#7570b3" fill-opacity="0.3"/>
<text x="796.35" y="65.6" font-size="12.9" textLength="60.17" lengthAdjust="spacingAndGlyphs">Pit. tumor</text>
<text class="cb" x="643.9" y="295" font-size="17.6" textLength="27.7" lengthAdjust="spacingAndGlyphs">(c)</text>
<text class="cb" x="680.2" y="295" font-size="17.6" textLength="32.4" lengthAdjust="spacingAndGlyphs">F2:</text>
<text class="ci" x="721.2" y="295" font-size="17.6" textLength="148.1" lengthAdjust="spacingAndGlyphs">MinorAxisLength</text>
<clipPath id="cd"><rect x="982.5" y="8" width="212" height="227.5"/></clipPath>
<g clip-path="url(#cd)">
<path d="M991.23 224.54H998.97V235.5H991.23ZM998.97 203.24H1006.71V235.5H998.97ZM1006.71 158.87H1014.45V235.5H1006.71ZM1014.45 130.47H1022.18V235.5H1014.45ZM1022.18 125.15H1029.92V235.5H1022.18ZM1029.92 128.7H1037.66V235.5H1029.92ZM1037.66 160.64H1045.4V235.5H1037.66ZM1045.4 165.97H1053.14V235.5H1045.4ZM1053.14 188.16H1060.88V235.5H1053.14ZM1060.88 204.13H1068.62V235.5H1060.88ZM1068.62 212.12H1076.36V235.5H1068.62ZM1076.36 223.65H1084.09V235.5H1076.36ZM1084.09 227.2H1091.83V235.5H1084.09ZM1091.83 229.87H1099.57V235.5H1091.83ZM1099.57 233.42H1107.31V235.5H1099.57ZM1107.31 234.3H1115.05V235.5H1107.31ZM1115.05 234.66H1122.79V235.5H1115.05ZM1122.79 234.84H1130.53V235.5H1122.79ZM1130.53 235.01H1138.27V235.5H1130.53ZM1138.27 235.19H1146V235.5H1138.27ZM1146 235.19H1153.74V235.5H1146ZM1153.74 235.19H1161.48V235.5H1153.74ZM1161.48 235.19H1169.22V235.5H1161.48ZM1169.22 235.19H1176.96V235.5H1169.22ZM1176.96 235.01H1184.7V235.5H1176.96ZM1184.7 235.19H1192.44V235.5H1184.7Z" fill="#e14e12" fill-opacity="0.3"/>
<path d="M991.23 214.78H998.97V235.5H991.23ZM998.97 173.07H1006.71V235.5H998.97ZM1006.71 123.37H1014.45V235.5H1006.71ZM1014.45 91.42H1022.18V235.5H1014.45ZM1022.18 92.84H1029.92V235.5H1022.18ZM1029.92 128.7H1037.66V235.5H1029.92ZM1037.66 167.74H1045.4V235.5H1037.66ZM1045.4 183.72H1053.14V235.5H1045.4ZM1053.14 203.24H1060.88V235.5H1053.14ZM1060.88 220.99H1068.62V235.5H1060.88ZM1068.62 230.75H1076.36V235.5H1068.62Z" fill="#2da255" fill-opacity="0.3"/>
<path d="M991.23 169.52H998.97V235.5H991.23ZM998.97 42.61H1006.71V235.5H998.97ZM1006.71 23.09H1014.45V235.5H1006.71ZM1014.45 96.75H1022.18V235.5H1014.45ZM1022.18 160.64H1029.92V235.5H1022.18ZM1029.92 201.47H1037.66V235.5H1029.92ZM1037.66 220.11H1045.4V235.5H1037.66ZM1045.4 229.87H1053.14V235.5H1045.4ZM1053.14 232.53H1060.88V235.5H1053.14ZM1060.88 233.42H1068.62V235.5H1060.88Z" fill="#7570b3" fill-opacity="0.3"/>
<path d="M991.23 225.43C991.91 223.21 993.98 217.29 995.31 212.12C996.64 206.94 997.89 199.99 999.22 194.37C1000.55 188.75 1001.94 183.42 1003.3 178.39C1004.66 173.37 1006.05 168.63 1007.38 164.19C1008.71 159.76 1009.98 155.32 1011.29 151.77C1012.59 148.22 1013.86 145.56 1015.19 142.9C1016.52 140.23 1017.85 138.16 1019.27 135.8C1020.69 133.43 1022.17 130.41 1023.71 128.7C1025.25 126.98 1027.02 125.21 1028.5 125.5C1029.98 125.8 1031.46 128.46 1032.59 130.47C1033.71 132.48 1034.21 134.91 1035.25 137.57C1036.28 140.23 1037.61 143.49 1038.8 146.45C1039.98 149.4 1041.16 152.95 1042.35 155.32C1043.53 157.69 1044.71 158.57 1045.9 160.64C1047.08 162.72 1048.18 164.79 1049.45 167.74C1050.72 170.7 1052.05 174.25 1053.53 178.39C1055.01 182.54 1056.64 188.16 1058.32 192.59C1060.01 197.03 1061.58 201.47 1063.65 205.02C1065.72 208.57 1068.38 210.79 1070.75 213.89C1073.11 217 1075.48 221.58 1077.85 223.65C1080.21 225.73 1082.58 225.43 1084.95 226.32C1087.31 227.2 1089.53 227.94 1092.05 228.98C1094.56 230.02 1097.37 231.55 1100.03 232.53C1102.7 233.51 1104.03 234.54 1108.02 234.84C1112.01 235.13 1118.37 234.3 1124 234.3C1129.62 234.3 1135.83 234.69 1141.74 234.84C1147.66 234.98 1152.39 235.13 1159.49 235.19C1166.59 235.25 1180.2 235.19 1184.34 235.19" fill="none" stroke="#d9602a" stroke-width="1.05" stroke-linejoin="round"/>
<path d="M991.23 225.43C991.91 222.32 993.98 213.45 995.31 206.79C996.64 200.14 997.89 193.19 999.22 185.49C1000.55 177.8 1001.94 168.93 1003.3 160.64C1004.66 152.36 1006.05 143.19 1007.38 135.8C1008.71 128.4 1009.98 121.6 1011.29 116.27C1012.59 110.95 1013.86 106.95 1015.19 103.85C1016.52 100.74 1017.85 98.82 1019.27 97.63C1020.69 96.45 1022.23 96.01 1023.71 96.75C1025.19 97.49 1026.82 99.11 1028.15 102.07C1029.48 105.03 1030.51 109.47 1031.7 114.5C1032.88 119.53 1034.21 126.33 1035.25 132.25C1036.28 138.16 1036.73 144.67 1037.91 150C1039.09 155.32 1041.02 160.35 1042.35 164.19C1043.68 168.04 1044.71 170.11 1045.9 173.07C1047.08 176.03 1048.18 178.39 1049.45 181.94C1050.72 185.49 1052.05 189.93 1053.53 194.37C1055.01 198.81 1056.64 204.13 1058.32 208.57C1060.01 213.01 1061.87 217.74 1063.65 220.99C1065.42 224.25 1067.2 226.02 1068.97 228.09C1070.75 230.16 1073.41 232.53 1074.3 233.42" fill="none" stroke="#2e9e55" stroke-width="1.05" stroke-linejoin="round"/>
<path d="M991.23 209.46C991.91 203.98 993.98 192.45 995.31 176.62C996.64 160.79 997.89 135.2 999.22 114.5C1000.55 93.79 1002.03 68.05 1003.3 52.37C1004.57 36.69 1005.67 24.86 1006.85 20.42C1008.03 15.99 1009.22 20.13 1010.4 25.75C1011.58 31.37 1012.77 43.5 1013.95 54.15C1015.13 64.8 1016.08 76.63 1017.5 89.65C1018.92 102.66 1020.99 119.23 1022.47 132.25C1023.95 145.26 1025.07 157.39 1026.37 167.74C1027.68 178.1 1029.1 187.56 1030.28 194.37C1031.46 201.17 1032.2 205.02 1033.47 208.57C1034.75 212.12 1036.43 213.6 1037.91 215.67C1039.39 217.74 1040.72 218.92 1042.35 220.99C1043.97 223.06 1045.81 226.47 1047.67 228.09C1049.54 229.72 1051.25 229.93 1053.53 230.75C1055.81 231.58 1058.77 232.47 1061.34 233.06C1063.91 233.65 1067.7 234.1 1068.97 234.3" fill="none" stroke="#7570b3" stroke-width="1.05" stroke-linejoin="round"/>
</g>
<rect x="982.5" y="8" width="212" height="227.5" fill="none" stroke="#6a6a6a" stroke-width="1"/>
<text x="1020" y="245" text-anchor="middle" font-size="6.4" textLength="15.77" lengthAdjust="spacingAndGlyphs">1000</text>
<text x="1058.31" y="245" text-anchor="middle" font-size="6.4" textLength="15.77" lengthAdjust="spacingAndGlyphs">2000</text>
<text x="1096.62" y="245" text-anchor="middle" font-size="6.4" textLength="15.77" lengthAdjust="spacingAndGlyphs">3000</text>
<text x="1134.94" y="245" text-anchor="middle" font-size="6.4" textLength="15.77" lengthAdjust="spacingAndGlyphs">4000</text>
<text x="1173.25" y="245" text-anchor="middle" font-size="6.4" textLength="15.77" lengthAdjust="spacingAndGlyphs">5000</text>
<text x="978.3" y="238.35" text-anchor="end" font-size="6.4" textLength="21.69" lengthAdjust="spacingAndGlyphs">0.0000</text>
<text x="978.3" y="208.64" text-anchor="end" font-size="6.4" textLength="21.69" lengthAdjust="spacingAndGlyphs">0.0002</text>
<text x="978.3" y="178.92" text-anchor="end" font-size="6.4" textLength="21.69" lengthAdjust="spacingAndGlyphs">0.0004</text>
<text x="978.3" y="149.21" text-anchor="end" font-size="6.4" textLength="21.69" lengthAdjust="spacingAndGlyphs">0.0006</text>
<text x="978.3" y="119.49" text-anchor="end" font-size="6.4" textLength="21.69" lengthAdjust="spacingAndGlyphs">0.0008</text>
<text x="978.3" y="89.78" text-anchor="end" font-size="6.4" textLength="21.69" lengthAdjust="spacingAndGlyphs">0.0010</text>
<text x="978.3" y="60.06" text-anchor="end" font-size="6.4" textLength="21.69" lengthAdjust="spacingAndGlyphs">0.0012</text>
<text x="978.3" y="30.35" text-anchor="end" font-size="6.4" textLength="21.69" lengthAdjust="spacingAndGlyphs">0.0014</text>
<path d="M1020 235.5v2.1M1058.31 235.5v2.1M1096.62 235.5v2.1M1134.94 235.5v2.1M1173.25 235.5v2.1M982.5 235.5h-2.1M982.5 205.79h-2.1M982.5 176.07h-2.1M982.5 146.36h-2.1M982.5 116.64h-2.1M982.5 86.93h-2.1M982.5 57.21h-2.1M982.5 27.5h-2.1" stroke="#333" stroke-width="0.8"/>
<text x="1088.5" y="257.8" text-anchor="middle" font-size="13.4" textLength="14.77" lengthAdjust="spacingAndGlyphs">F3</text>
<text transform="translate(952.75 123.65) rotate(-90)" x="0" y="0" text-anchor="middle" font-size="13.4" textLength="46.38" lengthAdjust="spacingAndGlyphs">Density</text>
<rect x="1068" y="14.7" width="120.1" height="58.1" rx="2" fill="#fff" fill-opacity="0.8" stroke="#dcdcdc" stroke-width="0.9"/>
<rect x="1073.3" y="20.5" width="24.3" height="8.6" fill="#e14e12" fill-opacity="0.3"/>
<text x="1107.6" y="29.2" font-size="12.9" textLength="43.07" lengthAdjust="spacingAndGlyphs">Glioma</text>
<rect x="1073.3" y="38.8" width="24.3" height="8.6" fill="#2da255" fill-opacity="0.3"/>
<text x="1107.6" y="47.4" font-size="12.9" textLength="74.86" lengthAdjust="spacingAndGlyphs">Meningioma</text>
<rect x="1073.3" y="57.1" width="24.3" height="8.6" fill="#7570b3" fill-opacity="0.3"/>
<text x="1107.6" y="65.6" font-size="12.9" textLength="60.17" lengthAdjust="spacingAndGlyphs">Pit. tumor</text>
<text class="cb" x="985.15" y="295" font-size="17.6" textLength="28.9" lengthAdjust="spacingAndGlyphs">(d)</text>
<text class="cb" x="1022.65" y="295" font-size="17.6" textLength="32.4" lengthAdjust="spacingAndGlyphs">F3:</text>
<text class="ci" x="1063.65" y="295" font-size="17.6" textLength="88.15" lengthAdjust="spacingAndGlyphs">Perimeter</text>
<clipPath id="ce"><rect x="46.75" y="343.25" width="212.75" height="228"/></clipPath>
<g clip-path="url(#ce)">
<path d="M57.06 562.37H64.76V571.25H57.06ZM64.76 539.18H72.47V571.25H64.76ZM72.47 506.19H80.17V571.25H72.47ZM80.17 496.38H87.88V571.25H80.17ZM87.88 485.68H95.58V571.25H87.88ZM95.58 483.9H103.29V571.25H95.58ZM103.29 461.07H110.99V571.25H103.29ZM110.99 484.79H118.69V571.25H110.99ZM118.69 504.41H126.4V571.25H118.69ZM126.4 521.35H134.1V571.25H126.4ZM134.1 529.37H141.81V571.25H134.1ZM141.81 542.75H149.51V571.25H141.81ZM149.51 540.97H157.22V571.25H149.51ZM157.22 554.34H164.92V571.25H157.22ZM164.92 560.59H172.63V571.25H164.92ZM172.63 565.04H180.33V571.25H172.63ZM180.33 568.61H188.04V571.25H180.33ZM188.04 569.86H195.74V571.25H188.04ZM195.74 570.22H203.45V571.25H195.74ZM203.45 570.39H211.15V571.25H203.45ZM211.15 570.57H218.86V571.25H211.15ZM218.86 570.57H226.56V571.25H218.86ZM226.56 570.75H234.26V571.25H226.56ZM234.26 570.75H241.97V571.25H234.26ZM241.97 570.57H249.67V571.25H241.97Z" fill="#e14e12" fill-opacity="0.3"/>
<path d="M57.06 562.37H64.76V571.25H57.06ZM64.76 521.35H72.47V571.25H64.76ZM72.47 497.27H80.17V571.25H72.47ZM80.17 450.01H87.88V571.25H80.17ZM87.88 458.93H95.58V571.25H87.88ZM95.58 417.55H103.29V571.25H95.58ZM103.29 483.9H110.99V571.25H103.29ZM110.99 494.6H118.69V571.25H110.99ZM118.69 515.11H126.4V571.25H118.69ZM126.4 530.27H134.1V571.25H126.4ZM134.1 557.02H141.81V571.25H134.1ZM141.81 564.15H149.51V571.25H141.81ZM149.51 561.48H157.22V571.25H149.51ZM157.22 567.72H164.92V571.25H157.22Z" fill="#2da255" fill-opacity="0.3"/>
<path d="M57.06 528.48H64.76V571.25H57.06ZM64.76 431.28H72.47V571.25H64.76ZM72.47 354.06H80.17V571.25H72.47ZM80.17 399.18H87.88V571.25H80.17ZM87.88 458.93H95.58V571.25H87.88ZM95.58 483.9H103.29V571.25H95.58ZM103.29 539.18H110.99V571.25H103.29ZM110.99 557.02H118.69V571.25H110.99ZM118.69 562.37H126.4V571.25H118.69ZM126.4 565.94H134.1V571.25H126.4ZM134.1 564.15H141.81V571.25H134.1ZM141.81 567.72H149.51V571.25H141.81Z" fill="#7570b3" fill-opacity="0.3"/>
<path d="M57.06 562.37C57.74 560.59 59.88 555.53 61.16 551.67C62.44 547.8 63.54 543.34 64.73 539.18C65.92 535.02 67.02 530.71 68.29 526.7C69.57 522.69 71.06 518.52 72.4 515.11C73.73 511.69 75.07 508.86 76.32 506.19C77.57 503.51 78.55 501.28 79.89 499.05C81.22 496.83 82.86 494.74 84.34 492.81C85.83 490.88 87.32 488.95 88.8 487.46C90.29 485.98 91.78 485.08 93.26 483.9C94.75 482.71 96.09 481.58 97.72 480.33C99.36 479.08 101.59 477.39 103.07 476.4C104.56 475.42 105.45 474.23 106.64 474.44C107.83 474.65 108.72 475.78 110.21 477.65C111.69 479.53 113.77 482.56 115.56 485.68C117.34 488.8 119.18 493.11 120.91 496.38C122.63 499.65 124.27 502.32 125.9 505.3C127.53 508.27 129.17 510.94 130.72 514.21C132.26 517.48 133.39 521.35 135.17 524.92C136.96 528.48 139.1 532.94 141.42 535.62C143.73 538.29 146.56 538.89 149.09 540.97C151.61 543.05 153.99 545.43 156.58 548.1C159.16 550.78 161.99 554.34 164.6 557.02C167.22 559.69 169.74 562.31 172.27 564.15C174.8 566 177.03 567.24 179.76 568.08C182.5 568.91 185.11 568.91 188.68 569.15C192.25 569.38 196.7 569.38 201.16 569.5C205.62 569.62 210.08 569.71 215.43 569.86C220.78 570.01 227.62 570.28 233.27 570.39C238.91 570.51 246.64 570.54 249.32 570.57" fill="none" stroke="#d9602a" stroke-width="1.05" stroke-linejoin="round"/>
<path d="M57.06 562.37C57.74 559.69 59.88 551.37 61.16 546.32C62.44 541.26 63.54 537.4 64.73 532.05C65.92 526.7 67.02 519.86 68.29 514.21C69.57 508.57 71.06 503.22 72.4 498.16C73.73 493.11 75.07 488.65 76.32 483.9C77.57 479.14 78.55 474.09 79.89 469.63C81.22 465.17 82.86 461.01 84.34 457.14C85.83 453.28 87.47 449.41 88.8 446.44C90.14 443.47 91.18 441.24 92.37 439.31C93.56 437.38 94.75 434.85 95.94 434.85C97.13 434.85 98.32 436.19 99.5 439.31C100.69 442.43 101.73 447.93 103.07 453.58C104.41 459.22 106.28 467.84 107.53 473.19C108.78 478.54 109.22 481.81 110.56 485.68C111.9 489.54 113.83 492.81 115.56 496.38C117.28 499.95 119.18 503.22 120.91 507.08C122.63 510.94 124.27 515.4 125.9 519.57C127.53 523.73 129.17 527.59 130.72 532.05C132.26 536.51 133.84 542.16 135.17 546.32C136.51 550.48 137.4 554.19 138.74 557.02C140.08 559.84 141.48 562.13 143.2 563.26C144.92 564.39 147.45 563.5 149.09 563.8C150.72 564.09 151.46 564.39 153.01 565.04C154.55 565.7 156.87 566.98 158.36 567.72C159.85 568.46 161.33 569.21 161.93 569.5" fill="none" stroke="#2e9e55" stroke-width="1.05" stroke-linejoin="round"/>
<path d="M57.06 549.88C57.74 545.13 59.88 532.05 61.16 521.35C62.44 510.65 63.54 500.54 64.73 485.68C65.92 470.82 67.02 448.52 68.29 432.17C69.57 415.83 70.91 398.59 72.4 387.59C73.88 376.59 75.81 367.67 77.21 366.19C78.61 364.7 79.59 372.13 80.78 378.67C81.97 385.21 83.01 395.02 84.34 405.42C85.68 415.83 87.47 430.69 88.8 441.09C90.14 451.5 91.18 460.41 92.37 467.84C93.56 475.28 94.75 479.73 95.94 485.68C97.13 491.62 98.32 497.57 99.5 503.51C100.69 509.46 101.73 514.81 103.07 521.35C104.41 527.89 106.28 537.85 107.53 542.75C108.78 547.65 109.22 548.4 110.56 550.78C111.9 553.15 113.83 555.09 115.56 557.02C117.28 558.95 118.97 560.73 120.91 562.37C122.84 564 125.07 566.53 127.15 566.83C129.23 567.12 131.76 564.45 133.39 564.15C135.03 563.85 135.62 564.45 136.96 565.04C138.3 565.64 140.08 567.12 141.42 567.72C142.75 568.31 144.39 568.46 144.98 568.61" fill="none" stroke="#7570b3" stroke-width="1.05" stroke-linejoin="round"/>
</g>
<rect x="46.75" y="343.25" width="212.75" height="228" fill="none" stroke="#6a6a6a" stroke-width="1"/>
<text x="67.5" y="580.75" text-anchor="middle" font-size="6.4" textLength="7.89" lengthAdjust="spacingAndGlyphs">50</text>
<text x="98.12" y="580.75" text-anchor="middle" font-size="6.4" textLength="11.83" lengthAdjust="spacingAndGlyphs">100</text>
<text x="128.75" y="580.75" text-anchor="middle" font-size="6.4" textLength="11.83" lengthAdjust="spacingAndGlyphs">150</text>
<text x="159.38" y="580.75" text-anchor="middle" font-size="6.4" textLength="11.83" lengthAdjust="spacingAndGlyphs">200</text>
<text x="190" y="580.75" text-anchor="middle" font-size="6.4" textLength="11.83" lengthAdjust="spacingAndGlyphs">250</text>
<text x="220.62" y="580.75" text-anchor="middle" font-size="6.4" textLength="11.83" lengthAdjust="spacingAndGlyphs">300</text>
<text x="251.25" y="580.75" text-anchor="middle" font-size="6.4" textLength="11.83" lengthAdjust="spacingAndGlyphs">350</text>
<text x="42.55" y="574.1" text-anchor="end" font-size="6.4" textLength="21.69" lengthAdjust="spacingAndGlyphs">0.0000</text>
<text x="42.55" y="548.23" text-anchor="end" font-size="6.4" textLength="21.69" lengthAdjust="spacingAndGlyphs">0.0025</text>
<text x="42.55" y="522.35" text-anchor="end" font-size="6.4" textLength="21.69" lengthAdjust="spacingAndGlyphs">0.0050</text>
<text x="42.55" y="496.48" text-anchor="end" font-size="6.4" textLength="21.69" lengthAdjust="spacingAndGlyphs">0.0075</text>
<text x="42.55" y="470.6" text-anchor="end" font-size="6.4" textLength="21.69" lengthAdjust="spacingAndGlyphs">0.0100</text>
<text x="42.55" y="444.73" text-anchor="end" font-size="6.4" textLength="21.69" lengthAdjust="spacingAndGlyphs">0.0125</text>
<text x="42.55" y="418.85" text-anchor="end" font-size="6.4" textLength="21.69" lengthAdjust="spacingAndGlyphs">0.0150</text>
<text x="42.55" y="392.98" text-anchor="end" font-size="6.4" textLength="21.69" lengthAdjust="spacingAndGlyphs">0.0175</text>
<text x="42.55" y="367.1" text-anchor="end" font-size="6.4" textLength="21.69" lengthAdjust="spacingAndGlyphs">0.0200</text>
<path d="M67.5 571.25v2.1M98.12 571.25v2.1M128.75 571.25v2.1M159.38 571.25v2.1M190 571.25v2.1M220.62 571.25v2.1M251.25 571.25v2.1M46.75 571.25h-2.1M46.75 545.38h-2.1M46.75 519.5h-2.1M46.75 493.62h-2.1M46.75 467.75h-2.1M46.75 441.88h-2.1M46.75 416h-2.1M46.75 390.12h-2.1M46.75 364.25h-2.1" stroke="#333" stroke-width="0.8"/>
<text x="153.12" y="593.55" text-anchor="middle" font-size="13.4" textLength="14.77" lengthAdjust="spacingAndGlyphs">F4</text>
<text transform="translate(17.75 459.15) rotate(-90)" x="0" y="0" text-anchor="middle" font-size="13.4" textLength="46.38" lengthAdjust="spacingAndGlyphs">Density</text>
<rect x="133.25" y="349.5" width="120.1" height="58.1" rx="2" fill="#fff" fill-opacity="0.8" stroke="#dcdcdc" stroke-width="0.9"/>
<rect x="138.55" y="355.3" width="24.3" height="8.6" fill="#e14e12" fill-opacity="0.3"/>
<text x="172.85" y="364" font-size="12.9" textLength="43.07" lengthAdjust="spacingAndGlyphs">Glioma</text>
<rect x="138.55" y="373.6" width="24.3" height="8.6" fill="#2da255" fill-opacity="0.3"/>
<text x="172.85" y="382.2" font-size="12.9" textLength="74.86" lengthAdjust="spacingAndGlyphs">Meningioma</text>
<rect x="138.55" y="391.9" width="24.3" height="8.6" fill="#7570b3" fill-opacity="0.3"/>
<text x="172.85" y="400.4" font-size="12.9" textLength="60.17" lengthAdjust="spacingAndGlyphs">Pit. tumor</text>
<text class="cb" x="11.9" y="630.7" font-size="17.6" textLength="27.4" lengthAdjust="spacingAndGlyphs">(e)</text>
<text class="cb" x="47.9" y="630.7" font-size="17.6" textLength="32.4" lengthAdjust="spacingAndGlyphs">F4:</text>
<text class="ci" x="88.9" y="630.7" font-size="17.6" textLength="166.65" lengthAdjust="spacingAndGlyphs">MaximumDiameter</text>
<clipPath id="cf"><rect x="350.75" y="343.25" width="220.5" height="228"/></clipPath>
<g clip-path="url(#cf)">
<path d="M361.1 570.2H369.09V571.25H361.1ZM369.09 565.02H377.09V571.25H369.09ZM377.09 548.74H385.08V571.25H377.09ZM385.08 535.41H393.07V571.25H385.08ZM393.07 505.44H401.06V571.25H393.07ZM401.06 471.03H409.06V571.25H401.06ZM409.06 403.13H417.05V571.25H409.06ZM417.05 386.48H425.04V571.25H417.05ZM425.04 396.65H433.03V571.25H425.04ZM433.03 461.41H441.03V571.25H433.03ZM441.03 492.86H449.02V571.25H441.03ZM449.02 542.81H457.01V571.25H449.02ZM457.01 555.77H465V571.25H457.01ZM465 565.02H473V571.25H465ZM473 568.72H480.99V571.25H473ZM480.99 570.2H488.98V571.25H480.99ZM488.98 570.57H496.98V571.25H488.98ZM496.98 570.94H504.97V571.25H496.98Z" fill="#e14e12" fill-opacity="0.3"/>
<path d="M385.08 564.09H393.07V571.25H385.08ZM393.07 535.41H401.06V571.25H393.07ZM401.06 496.56H409.06V571.25H401.06ZM409.06 442.91H417.05V571.25H409.06ZM417.05 358.17H425.04V571.25H417.05ZM425.04 365.2H433.03V571.25H425.04ZM433.03 428.11H441.03V571.25H433.03ZM441.03 448.83H449.02V571.25H441.03ZM449.02 513.21H457.01V571.25H449.02ZM457.01 542.81H465V571.25H457.01ZM465 565.02H473V571.25H465ZM473 569.64H480.99V571.25H473ZM480.99 570.57H488.98V571.25H480.99Z" fill="#2da255" fill-opacity="0.3"/>
<path d="M385.08 560.39H393.07V571.25H385.08ZM393.07 537.26H401.06V571.25H393.07ZM401.06 497.49H409.06V571.25H401.06ZM409.06 434.58H417.05V571.25H409.06ZM417.05 392.95H425.04V571.25H417.05ZM425.04 395.73H433.03V571.25H425.04ZM433.03 438.28H441.03V571.25H433.03ZM441.03 474.36H449.02V571.25H441.03ZM449.02 512.29H457.01V571.25H449.02ZM457.01 523.39H465V571.25H457.01ZM465 540.04H473V571.25H465ZM473 555.77H480.99V571.25H473ZM480.99 564.09H488.98V571.25H480.99ZM488.98 568.72H496.98V571.25H488.98ZM496.98 570.2H504.97V571.25H496.98ZM504.97 570.57H512.96V571.25H504.97ZM512.96 570.75H520.95V571.25H512.96ZM520.95 570.94H528.95V571.25H520.95ZM528.95 570.94H536.94V571.25H528.95ZM536.94 570.94H544.93V571.25H536.94ZM544.93 570.94H552.92V571.25H544.93ZM552.92 570.57H560.92V571.25H552.92Z" fill="#7570b3" fill-opacity="0.3"/>
<path d="M361.1 569.64C362.33 569.03 365.82 567.95 368.5 565.94C371.18 563.94 374.42 561.47 377.2 557.62C379.97 553.76 382.5 548.98 385.15 542.81C387.8 536.65 390.95 527.71 393.11 520.61C395.27 513.52 396.35 508.28 398.1 500.26C399.86 492.24 401.8 482.69 403.65 472.51C405.5 462.33 407.66 449.69 409.2 439.21C410.75 428.72 411.61 418.24 412.9 409.6C414.2 400.97 415.74 391.97 416.98 387.4C418.21 382.84 419.13 382.69 420.31 382.22C421.48 381.76 422.77 382.53 424.01 384.63C425.24 386.72 426.47 390.02 427.71 394.8C428.94 399.58 430.17 405.9 431.41 413.31C432.64 420.71 433.87 430.57 435.11 439.21C436.34 447.84 437.57 457.71 438.81 465.11C440.04 472.51 441.27 477.14 442.51 483.61C443.74 490.09 444.97 497.18 446.21 503.96C447.44 510.75 448.67 518.45 449.91 524.31C451.14 530.17 452.22 535.11 453.61 539.11C455 543.12 456.69 545.59 458.23 548.37C459.77 551.14 461.16 553.3 462.86 555.77C464.55 558.23 466.56 561.16 468.41 563.17C470.26 565.17 471.86 566.71 473.96 567.79C476.06 568.87 478.21 569.24 480.99 569.64C483.77 570.04 487.16 570.04 490.61 570.2C494.06 570.35 499.86 570.51 501.71 570.57" fill="none" stroke="#d9602a" stroke-width="1.05" stroke-linejoin="round"/>
<path d="M387.93 565.02C388.79 564.4 391.41 564.4 393.11 561.32C394.8 558.23 396.65 553.3 398.1 546.52C399.55 539.73 400.57 530.48 401.8 520.61C403.04 510.75 404.27 499.65 405.5 487.31C406.74 474.98 407.97 458.94 409.2 446.61C410.44 434.27 411.67 424.41 412.9 413.31C414.14 402.2 415.37 388.64 416.6 380C417.84 371.37 419.07 365.76 420.31 361.5C421.54 357.25 422.77 354.47 424.01 354.47C425.24 354.47 426.47 355.7 427.71 361.5C428.94 367.3 430.17 380 431.41 389.25C432.64 398.5 433.87 410.22 435.11 417.01C436.34 423.79 437.57 425.64 438.81 429.96C440.04 434.27 441.27 437.36 442.51 442.91C443.74 448.46 444.97 455.86 446.21 463.26C447.44 470.66 448.67 478.99 449.91 487.31C451.14 495.64 452.44 505.5 453.61 513.21C454.78 520.92 455.7 528.01 456.94 533.56C458.17 539.11 459.65 543.12 461.01 546.52C462.37 549.91 463.23 551.45 465.08 553.92C466.93 556.38 469.46 559.16 472.11 561.32C474.76 563.47 477.91 565.48 480.99 566.87C484.07 568.25 487.16 569.03 490.61 569.64C494.06 570.26 499.86 570.41 501.71 570.57" fill="none" stroke="#2e9e55" stroke-width="1.05" stroke-linejoin="round"/>
<path d="M388.85 559.47C389.56 557.31 391.57 552.07 393.11 546.52C394.65 540.96 396.65 532.95 398.1 526.16C399.55 519.38 400.57 512.9 401.8 505.81C403.04 498.72 404.27 492.24 405.5 483.61C406.74 474.98 407.97 463.57 409.2 454.01C410.44 444.45 411.67 434.27 412.9 426.26C414.14 418.24 415.37 410.38 416.6 405.9C417.84 401.43 419.07 400.66 420.31 399.43C421.54 398.2 422.77 397.42 424.01 398.5C425.24 399.58 426.47 402.2 427.71 405.9C428.94 409.6 430.17 416.39 431.41 420.71C432.64 425.02 433.87 428.11 435.11 431.81C436.34 435.51 437.57 439.21 438.81 442.91C440.04 446.61 441.27 449.07 442.51 454.01C443.74 458.94 444.97 465.73 446.21 472.51C447.44 479.29 448.67 488.54 449.91 494.71C451.14 500.88 452.44 505.2 453.61 509.51C454.78 513.83 455.7 516.91 456.94 520.61C458.17 524.31 459.65 528.63 461.01 531.71C462.37 534.8 463.54 536.65 465.08 539.11C466.62 541.58 468.47 543.74 470.26 546.52C472.05 549.29 474.02 552.99 475.81 555.77C477.6 558.54 478.83 561.16 480.99 563.17C483.15 565.17 485.92 566.71 488.76 567.79C491.6 568.87 494.93 569.18 498.01 569.64C501.09 570.1 502.64 570.35 507.26 570.57C511.89 570.78 519.6 570.94 525.76 570.94C531.93 570.94 539.02 570.69 544.26 570.57C549.51 570.44 555.06 570.26 557.22 570.2" fill="none" stroke="#7570b3" stroke-width="1.05" stroke-linejoin="round"/>
</g>
<rect x="350.75" y="343.25" width="220.5" height="228" fill="none" stroke="#6a6a6a" stroke-width="1"/>
<text x="352.5" y="580.75" text-anchor="middle" font-size="6.4" textLength="13.8" lengthAdjust="spacingAndGlyphs">0.10</text>
<text x="386.75" y="580.75" text-anchor="middle" font-size="6.4" textLength="13.8" lengthAdjust="spacingAndGlyphs">0.15</text>
<text x="421" y="580.75" text-anchor="middle" font-size="6.4" textLength="13.8" lengthAdjust="spacingAndGlyphs">0.20</text>
<text x="455.25" y="580.75" text-anchor="middle" font-size="6.4" textLength="13.8" lengthAdjust="spacingAndGlyphs">0.25</text>
<text x="489.5" y="580.75" text-anchor="middle" font-size="6.4" textLength="13.8" lengthAdjust="spacingAndGlyphs">0.30</text>
<text x="523.75" y="580.75" text-anchor="middle" font-size="6.4" textLength="13.8" lengthAdjust="spacingAndGlyphs">0.35</text>
<text x="558" y="580.75" text-anchor="middle" font-size="6.4" textLength="13.8" lengthAdjust="spacingAndGlyphs">0.40</text>
<text x="346.55" y="574.1" text-anchor="end" font-size="6.4" textLength="9.86" lengthAdjust="spacingAndGlyphs">0.0</text>
<text x="346.55" y="544.46" text-anchor="end" font-size="6.4" textLength="9.86" lengthAdjust="spacingAndGlyphs">2.5</text>
<text x="346.55" y="514.81" text-anchor="end" font-size="6.4" textLength="9.86" lengthAdjust="spacingAndGlyphs">5.0</text>
<text x="346.55" y="485.17" text-anchor="end" font-size="6.4" textLength="9.86" lengthAdjust="spacingAndGlyphs">7.5</text>
<text x="346.55" y="455.53" text-anchor="end" font-size="6.4" textLength="13.8" lengthAdjust="spacingAndGlyphs">10.0</text>
<text x="346.55" y="425.89" text-anchor="end" font-size="6.4" textLength="13.8" lengthAdjust="spacingAndGlyphs">12.5</text>
<text x="346.55" y="396.24" text-anchor="end" font-size="6.4" textLength="13.8" lengthAdjust="spacingAndGlyphs">15.0</text>
<text x="346.55" y="366.6" text-anchor="end" font-size="6.4" textLength="13.8" lengthAdjust="spacingAndGlyphs">17.5</text>
<path d="M352.5 571.25v2.1M386.75 571.25v2.1M421 571.25v2.1M455.25 571.25v2.1M489.5 571.25v2.1M523.75 571.25v2.1M558 571.25v2.1M350.75 571.25h-2.1M350.75 541.61h-2.1M350.75 511.96h-2.1M350.75 482.32h-2.1M350.75 452.68h-2.1M350.75 423.04h-2.1M350.75 393.39h-2.1M350.75 363.75h-2.1" stroke="#333" stroke-width="0.8"/>
<text x="461" y="593.55" text-anchor="middle" font-size="13.4" textLength="14.77" lengthAdjust="spacingAndGlyphs">F5</text>
<text transform="translate(329.5 459.15) rotate(-90)" x="0" y="0" text-anchor="middle" font-size="13.4" textLength="46.38" lengthAdjust="spacingAndGlyphs">Density</text>
<rect x="444.5" y="349.5" width="120.1" height="58.1" rx="2" fill="#fff" fill-opacity="0.8" stroke="#dcdcdc" stroke-width="0.9"/>
<rect x="449.8" y="355.3" width="24.3" height="8.6" fill="#e14e12" fill-opacity="0.3"/>
<text x="484.1" y="364" font-size="12.9" textLength="43.07" lengthAdjust="spacingAndGlyphs">Glioma</text>
<rect x="449.8" y="373.6" width="24.3" height="8.6" fill="#2da255" fill-opacity="0.3"/>
<text x="484.1" y="382.2" font-size="12.9" textLength="74.86" lengthAdjust="spacingAndGlyphs">Meningioma</text>
<rect x="449.8" y="391.9" width="24.3" height="8.6" fill="#7570b3" fill-opacity="0.3"/>
<text x="484.1" y="400.4" font-size="12.9" textLength="60.17" lengthAdjust="spacingAndGlyphs">Pit. tumor</text>
<text class="cb" x="364.9" y="630.7" font-size="17.6" textLength="23.9" lengthAdjust="spacingAndGlyphs">(f)</text>
<text class="cb" x="397.4" y="630.7" font-size="17.6" textLength="32.4" lengthAdjust="spacingAndGlyphs">F5:</text>
<text class="ci" x="438.4" y="630.7" font-size="17.6" textLength="87.15" lengthAdjust="spacingAndGlyphs">Sphericity</text>
<clipPath id="cg"><rect x="666.25" y="343.25" width="216.75" height="228"/></clipPath>
<g clip-path="url(#cg)">
<path d="M675.99 566.07H683.87V571.25H675.99ZM683.87 559.17H691.76V571.25H683.87ZM691.76 542.82H699.64V571.25H691.76ZM699.64 488.32H707.53V571.25H699.64ZM707.53 460.17H715.41V571.25H707.53ZM715.41 451.08H723.29V571.25H715.41ZM723.29 436.55H731.18V571.25H723.29ZM731.18 488.32H739.06V571.25H731.18ZM739.06 488.32H746.94V571.25H739.06ZM746.94 494.32H754.83V571.25H746.94ZM754.83 492.86H762.71V571.25H754.83ZM762.71 514.66H770.6V571.25H762.71ZM770.6 535.55H778.48V571.25H770.6ZM778.48 548.27H786.36V571.25H778.48ZM786.36 555.53H794.25V571.25H786.36ZM794.25 556.44H802.13V571.25H794.25ZM802.13 562.8H810.01V571.25H802.13ZM810.01 564.98H817.9V571.25H810.01ZM817.9 567.34H825.78V571.25H817.9ZM825.78 568.25H833.67V571.25H825.78ZM833.67 569.16H841.55V571.25H833.67ZM841.55 569.7H849.43V571.25H841.55ZM849.43 570.07H857.32V571.25H849.43ZM857.32 570.07H865.2V571.25H857.32ZM865.2 570.43H873.08V571.25H865.2Z" fill="#e14e12" fill-opacity="0.3"/>
<path d="M746.94 551.9H754.83V571.25H746.94ZM754.83 541.91H762.71V571.25H754.83ZM762.71 514.66H770.6V571.25H762.71ZM770.6 474.7H778.48V571.25H770.6ZM778.48 439.28H786.36V571.25H778.48ZM786.36 439.28H794.25V571.25H786.36ZM794.25 418.93H802.13V571.25H794.25ZM802.13 455.62H810.01V571.25H802.13ZM810.01 497.41H817.9V571.25H810.01ZM817.9 495.59H825.78V571.25H817.9ZM825.78 523.74H833.67V571.25H825.78ZM833.67 541.91H841.55V571.25H833.67ZM841.55 556.44H849.43V571.25H841.55ZM849.43 565.52H857.32V571.25H849.43ZM857.32 565.52H865.2V571.25H857.32ZM865.2 562.8H873.08V571.25H865.2Z" fill="#2da255" fill-opacity="0.3"/>
<path d="M715.41 568.25H723.29V571.25H715.41ZM723.29 563.71H731.18V571.25H723.29ZM731.18 540.09H739.06V571.25H731.18ZM739.06 514.66H746.94V571.25H739.06ZM746.94 493.77H754.83V571.25H746.94ZM754.83 448H762.71V571.25H754.83ZM762.71 471.97H770.6V571.25H762.71ZM770.6 451.08H778.48V571.25H770.6ZM778.48 450.18H786.36V571.25H778.48ZM786.36 455.26H794.25V571.25H786.36ZM794.25 486.51H802.13V571.25H794.25ZM802.13 498.31H810.01V571.25H802.13ZM810.01 514.66H817.9V571.25H810.01ZM817.9 560.98H825.78V571.25H817.9ZM825.78 563.71H833.67V571.25H825.78ZM833.67 567.34H841.55V571.25H833.67ZM841.55 568.25H849.43V571.25H841.55ZM849.43 569.16H857.32V571.25H849.43ZM857.32 569.7H865.2V571.25H857.32Z" fill="#7570b3" fill-opacity="0.3"/>
<path d="M675.99 567.34C676.75 566.74 678.87 565.52 680.53 563.71C682.2 561.89 684.07 559.62 685.98 556.44C687.89 553.26 690.16 549.63 691.98 544.63C693.79 539.64 695.46 532.22 696.88 526.47C698.3 520.72 699.42 514.54 700.51 510.12C701.6 505.7 702.27 504.82 703.42 499.95C704.57 495.07 705.78 487.66 707.42 480.87C709.05 474.09 711.5 464.13 713.23 459.26C714.96 454.38 716.29 453.29 717.77 451.63C719.25 449.96 720.77 449.12 722.13 449.27C723.49 449.42 724.49 449.99 725.95 452.54C727.4 455.08 729.06 460.29 730.85 464.53C732.64 468.76 734.73 474.27 736.66 477.97C738.6 481.66 740.02 484.48 742.48 486.69C744.93 488.9 748.99 489.9 751.38 491.23C753.77 492.56 755.31 493.05 756.83 494.68C758.34 496.32 759.25 498.46 760.46 501.04C761.67 503.61 762.88 507.09 764.09 510.12C765.3 513.15 766.21 515.57 767.73 519.2C769.24 522.84 771.36 527.98 773.18 531.92C774.99 535.85 776.81 539.79 778.62 542.82C780.44 545.85 782.26 548.12 784.07 550.08C785.89 552.05 787.4 553.41 789.52 554.63C791.64 555.84 794.67 556.44 796.79 557.35C798.91 558.26 799.82 559.02 802.24 560.08C804.66 561.14 808.29 562.71 811.32 563.71C814.35 564.71 817.38 565.31 820.41 566.07C823.43 566.83 826.46 567.74 829.49 568.25C832.52 568.76 835.54 568.92 838.57 569.16C841.6 569.4 844.63 569.55 847.65 569.7C850.68 569.85 852.5 569.95 856.74 570.07C860.97 570.19 870.36 570.37 873.08 570.43" fill="none" stroke="#d9602a" stroke-width="1.05" stroke-linejoin="round"/>
<path d="M746.47 560.98C747.29 559.77 749.65 556.75 751.38 553.72C753.1 550.69 755.01 547.66 756.83 542.82C758.64 537.97 760.46 531.62 762.28 524.65C764.09 517.69 765.91 509.21 767.73 501.04C769.54 492.86 771.36 483.18 773.18 475.61C774.99 468.04 776.81 461.07 778.62 455.62C780.44 450.18 782.26 446.84 784.07 442.91C785.89 438.97 787.86 434.43 789.52 432.01C791.19 429.59 792.7 428.68 794.07 428.38C795.43 428.07 796.49 427.47 797.7 430.19C798.91 432.92 799.97 438.67 801.33 444.73C802.69 450.78 804.21 460.47 805.87 466.52C807.54 472.58 809.51 476.82 811.32 481.06C813.14 485.29 814.96 488.02 816.77 491.96C818.59 495.89 820.41 500.74 822.22 504.67C824.04 508.61 825.85 510.73 827.67 515.57C829.49 520.41 831.3 528.29 833.12 533.74C834.94 539.19 836.75 544.33 838.57 548.27C840.39 552.2 842.2 554.93 844.02 557.35C845.84 559.77 847.35 561.53 849.47 562.8C851.59 564.07 854.31 564.68 856.74 564.98C859.16 565.28 861.28 564.37 864 564.62C866.73 564.86 871.57 566.13 873.08 566.43" fill="none" stroke="#2e9e55" stroke-width="1.05" stroke-linejoin="round"/>
<path d="M713.59 568.25C714.44 567.8 716.92 566.89 718.68 565.52C720.44 564.16 722.31 562.95 724.13 560.08C725.95 557.2 727.76 552.96 729.58 548.27C731.4 543.58 733.21 537.37 735.03 531.92C736.84 526.47 738.66 521.32 740.48 515.57C742.29 509.82 744.11 503.76 745.93 497.41C747.74 491.05 749.56 483.18 751.38 477.42C753.19 471.67 755.01 465.77 756.83 462.89C758.64 460.01 760.46 460.92 762.28 460.17C764.09 459.41 765.91 458.96 767.73 458.35C769.54 457.74 771.36 457.23 773.18 456.53C774.99 455.84 776.81 454.87 778.62 454.17C780.44 453.48 782.56 452.42 784.07 452.36C785.59 452.29 786.5 452.66 787.71 453.81C788.92 454.96 790.13 456.53 791.34 459.26C792.55 461.98 793.46 465.62 794.97 470.16C796.49 474.7 798.61 481.96 800.42 486.51C802.24 491.05 804.06 492.86 805.87 497.41C807.69 501.95 809.51 507.4 811.32 513.75C813.14 520.11 814.96 529.19 816.77 535.55C818.59 541.91 820.41 547.66 822.22 551.9C824.04 556.14 825.85 558.56 827.67 560.98C829.49 563.41 831 565.07 833.12 566.43C835.24 567.8 837.96 568.79 840.39 569.16C842.81 569.52 844.93 568.52 847.65 568.61C850.38 568.7 853.71 569.4 856.74 569.7C859.76 570.01 864.3 570.31 865.82 570.43" fill="none" stroke="#7570b3" stroke-width="1.05" stroke-linejoin="round"/>
</g>
<rect x="666.25" y="343.25" width="216.75" height="228" fill="none" stroke="#6a6a6a" stroke-width="1"/>
<text x="669.25" y="580.75" text-anchor="middle" font-size="6.4" textLength="7.89" lengthAdjust="spacingAndGlyphs">20</text>
<text x="698.29" y="580.75" text-anchor="middle" font-size="6.4" textLength="7.89" lengthAdjust="spacingAndGlyphs">40</text>
<text x="727.32" y="580.75" text-anchor="middle" font-size="6.4" textLength="7.89" lengthAdjust="spacingAndGlyphs">60</text>
<text x="756.36" y="580.75" text-anchor="middle" font-size="6.4" textLength="7.89" lengthAdjust="spacingAndGlyphs">80</text>
<text x="785.39" y="580.75" text-anchor="middle" font-size="6.4" textLength="11.83" lengthAdjust="spacingAndGlyphs">100</text>
<text x="814.43" y="580.75" text-anchor="middle" font-size="6.4" textLength="11.83" lengthAdjust="spacingAndGlyphs">120</text>
<text x="843.46" y="580.75" text-anchor="middle" font-size="6.4" textLength="11.83" lengthAdjust="spacingAndGlyphs">140</text>
<text x="872.5" y="580.75" text-anchor="middle" font-size="6.4" textLength="11.83" lengthAdjust="spacingAndGlyphs">160</text>
<text x="662.05" y="574.1" text-anchor="end" font-size="6.4" textLength="17.74" lengthAdjust="spacingAndGlyphs">0.000</text>
<text x="662.05" y="547.01" text-anchor="end" font-size="6.4" textLength="17.74" lengthAdjust="spacingAndGlyphs">0.005</text>
<text x="662.05" y="519.91" text-anchor="end" font-size="6.4" textLength="17.74" lengthAdjust="spacingAndGlyphs">0.010</text>
<text x="662.05" y="492.82" text-anchor="end" font-size="6.4" textLength="17.74" lengthAdjust="spacingAndGlyphs">0.015</text>
<text x="662.05" y="465.73" text-anchor="end" font-size="6.4" textLength="17.74" lengthAdjust="spacingAndGlyphs">0.020</text>
<text x="662.05" y="438.63" text-anchor="end" font-size="6.4" textLength="17.74" lengthAdjust="spacingAndGlyphs">0.025</text>
<text x="662.05" y="411.54" text-anchor="end" font-size="6.4" textLength="17.74" lengthAdjust="spacingAndGlyphs">0.030</text>
<text x="662.05" y="384.44" text-anchor="end" font-size="6.4" textLength="17.74" lengthAdjust="spacingAndGlyphs">0.035</text>
<text x="662.05" y="357.35" text-anchor="end" font-size="6.4" textLength="17.74" lengthAdjust="spacingAndGlyphs">0.040</text>
<path d="M669.25 571.25v2.1M698.29 571.25v2.1M727.32 571.25v2.1M756.36 571.25v2.1M785.39 571.25v2.1M814.43 571.25v2.1M843.46 571.25v2.1M872.5 571.25v2.1M666.25 571.25h-2.1M666.25 544.16h-2.1M666.25 517.06h-2.1M666.25 489.97h-2.1M666.25 462.88h-2.1M666.25 435.78h-2.1M666.25 408.69h-2.1M666.25 381.59h-2.1M666.25 354.5h-2.1" stroke="#333" stroke-width="0.8"/>
<text x="774.62" y="593.55" text-anchor="middle" font-size="13.4" textLength="14.77" lengthAdjust="spacingAndGlyphs">F6</text>
<text transform="translate(641 459.15) rotate(-90)" x="0" y="0" text-anchor="middle" font-size="13.4" textLength="46.38" lengthAdjust="spacingAndGlyphs">Density</text>
<rect x="756.75" y="349.5" width="120.1" height="58.1" rx="2" fill="#fff" fill-opacity="0.8" stroke="#dcdcdc" stroke-width="0.9"/>
<rect x="762.05" y="355.3" width="24.3" height="8.6" fill="#e14e12" fill-opacity="0.3"/>
<text x="796.35" y="364" font-size="12.9" textLength="43.07" lengthAdjust="spacingAndGlyphs">Glioma</text>
<rect x="762.05" y="373.6" width="24.3" height="8.6" fill="#2da255" fill-opacity="0.3"/>
<text x="796.35" y="382.2" font-size="12.9" textLength="74.86" lengthAdjust="spacingAndGlyphs">Meningioma</text>
<rect x="762.05" y="391.9" width="24.3" height="8.6" fill="#7570b3" fill-opacity="0.3"/>
<text x="796.35" y="400.4" font-size="12.9" textLength="60.17" lengthAdjust="spacingAndGlyphs">Pit. tumor</text>
<text class="cb" x="653.9" y="630.7" font-size="17.6" textLength="28" lengthAdjust="spacingAndGlyphs">(g)</text>
<text class="cb" x="690.5" y="630.7" font-size="17.6" textLength="32.4" lengthAdjust="spacingAndGlyphs">F6:</text>
<text class="ci" x="731.5" y="630.7" font-size="17.6" textLength="128.55" lengthAdjust="spacingAndGlyphs">Mean intensity</text>
<clipPath id="ch"><rect x="978.25" y="346.25" width="216.25" height="225"/></clipPath>
<g clip-path="url(#ch)">
<path d="M987.95 569.33H995.79V571.25H987.95ZM995.79 570.23H1003.64V571.25H995.79ZM1003.64 555.76H1011.49V571.25H1003.64ZM1011.49 520.5H1019.34V571.25H1011.49ZM1019.34 484.34H1027.19V571.25H1019.34ZM1027.19 441.48H1035.03V571.25H1027.19ZM1035.03 410.2H1042.88V571.25H1035.03ZM1042.88 435.15H1050.73V571.25H1042.88ZM1050.73 452.15H1058.58V571.25H1050.73ZM1058.58 502.42H1066.43V571.25H1058.58ZM1066.43 496.99H1074.27V571.25H1066.43ZM1074.27 530.45H1082.12V571.25H1074.27ZM1082.12 544.92H1089.97V571.25H1082.12ZM1089.97 552.15H1097.82V571.25H1089.97ZM1097.82 563H1105.67V571.25H1097.82ZM1105.67 557.57H1113.52V571.25H1105.67ZM1113.52 564.81H1121.36V571.25H1113.52ZM1121.36 566.61H1129.21V571.25H1121.36ZM1129.21 569.33H1137.06V571.25H1129.21ZM1137.06 570.23H1144.91V571.25H1137.06ZM1144.91 569.87H1152.76V571.25H1144.91ZM1152.76 570.59H1160.6V571.25H1152.76ZM1160.6 570.77H1168.45V571.25H1160.6ZM1168.45 570.95H1176.3V571.25H1168.45ZM1176.3 570.77H1184.15V571.25H1176.3Z" fill="#e14e12" fill-opacity="0.3"/>
<path d="M1042.88 570.23H1050.73V571.25H1042.88ZM1050.73 567.52H1058.58V571.25H1050.73ZM1058.58 563H1066.43V571.25H1058.58ZM1066.43 534.07H1074.27V571.25H1066.43ZM1074.27 529.54H1082.12V571.25H1074.27ZM1082.12 461.73H1089.97V571.25H1082.12ZM1089.97 442.75H1097.82V571.25H1089.97ZM1097.82 459.02H1105.67V571.25H1097.82ZM1105.67 417.79H1113.52V571.25H1105.67ZM1113.52 484.88H1121.36V571.25H1113.52ZM1121.36 496.99H1129.21V571.25H1121.36ZM1129.21 498.8H1137.06V571.25H1129.21ZM1137.06 524.12H1144.91V571.25H1137.06ZM1144.91 540.39H1152.76V571.25H1144.91ZM1152.76 554.86H1160.6V571.25H1152.76ZM1160.6 563H1168.45V571.25H1160.6ZM1168.45 566.61H1176.3V571.25H1168.45Z" fill="#2da255" fill-opacity="0.3"/>
<path d="M1027.19 567.52H1035.03V571.25H1027.19ZM1035.03 554.86H1042.88V571.25H1035.03ZM1042.88 550.34H1050.73V571.25H1042.88ZM1050.73 517.79H1058.58V571.25H1050.73ZM1058.58 499.71H1066.43V571.25H1058.58ZM1066.43 441.84H1074.27V571.25H1066.43ZM1074.27 468.97H1082.12V571.25H1074.27ZM1082.12 461.73H1089.97V571.25H1082.12ZM1089.97 439.13H1097.82V571.25H1089.97ZM1097.82 458.12H1105.67V571.25H1097.82ZM1105.67 465.35H1113.52V571.25H1105.67ZM1113.52 505.13H1121.36V571.25H1113.52ZM1121.36 525.02H1129.21V571.25H1121.36ZM1129.21 557.57H1137.06V571.25H1129.21ZM1137.06 558.48H1144.91V571.25H1137.06ZM1144.91 567.52H1152.76V571.25H1144.91ZM1152.76 568.42H1160.6V571.25H1152.76ZM1160.6 569.33H1168.45V571.25H1160.6ZM1168.45 569.87H1176.3V571.25H1168.45Z" fill="#7570b3" fill-opacity="0.3"/>
<path d="M987.95 568.06C989 567.88 992.32 567.67 994.27 566.98C996.23 566.28 997.89 566.07 999.7 563.9C1001.51 561.73 1003.32 558.33 1005.12 553.96C1006.93 549.59 1008.74 544.01 1010.55 537.68C1012.36 531.35 1014.17 523.82 1015.97 515.98C1017.78 508.15 1019.59 499.71 1021.4 490.67C1023.21 481.62 1025.02 470.47 1026.82 461.73C1028.63 452.99 1030.59 443.65 1032.25 438.22C1033.91 432.8 1035.41 430.99 1036.77 429.18C1038.13 427.37 1039.03 426.92 1040.39 427.37C1041.74 427.83 1043.25 429.18 1044.91 431.9C1046.57 434.61 1048.52 438.68 1050.33 443.65C1052.14 448.62 1053.95 455.1 1055.76 461.73C1057.57 468.36 1059.37 476.8 1061.18 483.43C1062.99 490.06 1064.8 495.79 1066.61 501.52C1068.42 507.24 1070.22 513.27 1072.03 517.79C1073.84 522.31 1075.65 525.32 1077.46 528.64C1079.27 531.96 1081.07 534.97 1082.88 537.68C1084.69 540.39 1086.5 542.5 1088.31 544.92C1090.12 547.33 1091.92 550.04 1093.73 552.15C1095.54 554.26 1097.35 556.37 1099.16 557.57C1100.97 558.78 1102.77 558.78 1104.58 559.38C1106.39 559.98 1108.2 560.44 1110.01 561.19C1111.82 561.94 1113.32 563 1115.43 563.9C1117.54 564.81 1119.95 565.86 1122.67 566.61C1125.38 567.37 1128.69 567.94 1131.71 568.42C1134.72 568.91 1137.73 569.21 1140.75 569.51C1143.76 569.81 1146.78 570.05 1149.79 570.23C1152.8 570.41 1155.82 570.5 1158.83 570.59C1161.85 570.68 1164.86 570.74 1167.87 570.77C1170.89 570.8 1174.2 570.74 1176.92 570.77C1179.63 570.8 1182.94 570.92 1184.15 570.95" fill="none" stroke="#d9602a" stroke-width="1.05" stroke-linejoin="round"/>
<path d="M1042.2 570.23C1043.55 569.93 1047.77 569.63 1050.33 568.42C1052.89 567.22 1055.46 565.41 1057.57 563C1059.68 560.59 1061.18 557.57 1062.99 553.96C1064.8 550.34 1066.76 546.42 1068.42 541.3C1070.07 536.17 1071.43 529.85 1072.94 523.22C1074.44 516.58 1075.95 508.75 1077.46 501.52C1078.96 494.28 1080.47 486.45 1081.98 479.82C1083.49 473.19 1084.84 467.16 1086.5 461.73C1088.16 456.31 1090.12 451.49 1091.92 447.27C1093.73 443.05 1095.54 439.28 1097.35 436.42C1099.16 433.55 1101.12 430.69 1102.77 430.09C1104.43 429.48 1105.79 429.33 1107.29 432.8C1108.8 436.27 1110.46 444.85 1111.82 450.88C1113.17 456.91 1113.93 463.54 1115.43 468.97C1116.94 474.39 1119.05 479.21 1120.86 483.43C1122.67 487.65 1124.47 491.27 1126.28 494.28C1128.09 497.3 1129.9 498.2 1131.71 501.52C1133.52 504.83 1135.32 509.65 1137.13 514.17C1138.94 518.69 1140.75 524.12 1142.56 528.64C1144.37 533.16 1146.17 537.38 1147.98 541.3C1149.79 545.22 1151.6 549.13 1153.41 552.15C1155.22 555.16 1156.72 557.42 1158.83 559.38C1160.94 561.34 1163.96 562.85 1166.07 563.9C1168.17 564.96 1169.77 565.11 1171.49 565.71C1173.21 566.31 1175.56 567.22 1176.37 567.52" fill="none" stroke="#2e9e55" stroke-width="1.05" stroke-linejoin="round"/>
<path d="M1033.15 563C1033.91 562.09 1036.02 559.68 1037.67 557.57C1039.33 555.46 1041.29 553.35 1043.1 550.34C1044.91 547.33 1046.72 544.61 1048.52 539.49C1050.33 534.37 1052.14 526.53 1053.95 519.6C1055.76 512.67 1057.72 504.53 1059.37 497.9C1061.03 491.27 1062.39 485.24 1063.9 479.82C1065.4 474.39 1067.06 468.21 1068.42 465.35C1069.77 462.49 1070.68 462.79 1072.03 462.64C1073.39 462.49 1074.9 463.84 1076.55 464.44C1078.21 465.05 1080.32 466.71 1081.98 466.25C1083.64 465.8 1084.84 463.69 1086.5 461.73C1088.16 459.77 1090.12 456.25 1091.92 454.5C1093.73 452.75 1095.69 451.55 1097.35 451.24C1099.01 450.94 1100.36 450.94 1101.87 452.69C1103.38 454.44 1104.88 457.81 1106.39 461.73C1107.9 465.65 1109.4 470.77 1110.91 476.2C1112.42 481.62 1113.77 488.25 1115.43 494.28C1117.09 500.31 1119.05 506.04 1120.86 512.37C1122.67 518.69 1124.47 526.53 1126.28 532.26C1128.09 537.98 1129.9 542.81 1131.71 546.72C1133.52 550.64 1135.32 553.05 1137.13 555.76C1138.94 558.48 1140.75 561.19 1142.56 563C1144.37 564.81 1145.87 565.86 1147.98 566.61C1150.09 567.37 1153.11 567.37 1155.22 567.52C1157.32 567.67 1158.53 567.31 1160.64 567.52C1162.75 567.73 1166.67 568.57 1167.87 568.78" fill="none" stroke="#7570b3" stroke-width="1.05" stroke-linejoin="round"/>
</g>
<rect x="978.25" y="346.25" width="216.25" height="225" fill="none" stroke="#6a6a6a" stroke-width="1"/>
<text x="1002" y="580.75" text-anchor="middle" font-size="6.4" textLength="7.89" lengthAdjust="spacingAndGlyphs">25</text>
<text x="1031.75" y="580.75" text-anchor="middle" font-size="6.4" textLength="7.89" lengthAdjust="spacingAndGlyphs">50</text>
<text x="1061.5" y="580.75" text-anchor="middle" font-size="6.4" textLength="7.89" lengthAdjust="spacingAndGlyphs">75</text>
<text x="1091.25" y="580.75" text-anchor="middle" font-size="6.4" textLength="11.83" lengthAdjust="spacingAndGlyphs">100</text>
<text x="1121" y="580.75" text-anchor="middle" font-size="6.4" textLength="11.83" lengthAdjust="spacingAndGlyphs">125</text>
<text x="1150.75" y="580.75" text-anchor="middle" font-size="6.4" textLength="11.83" lengthAdjust="spacingAndGlyphs">150</text>
<text x="1180.5" y="580.75" text-anchor="middle" font-size="6.4" textLength="11.83" lengthAdjust="spacingAndGlyphs">175</text>
<text x="974.05" y="574.1" text-anchor="end" font-size="6.4" textLength="17.74" lengthAdjust="spacingAndGlyphs">0.000</text>
<text x="974.05" y="541.96" text-anchor="end" font-size="6.4" textLength="17.74" lengthAdjust="spacingAndGlyphs">0.005</text>
<text x="974.05" y="509.81" text-anchor="end" font-size="6.4" textLength="17.74" lengthAdjust="spacingAndGlyphs">0.010</text>
<text x="974.05" y="477.67" text-anchor="end" font-size="6.4" textLength="17.74" lengthAdjust="spacingAndGlyphs">0.015</text>
<text x="974.05" y="445.53" text-anchor="end" font-size="6.4" textLength="17.74" lengthAdjust="spacingAndGlyphs">0.020</text>
<text x="974.05" y="413.39" text-anchor="end" font-size="6.4" textLength="17.74" lengthAdjust="spacingAndGlyphs">0.025</text>
<text x="974.05" y="381.24" text-anchor="end" font-size="6.4" textLength="17.74" lengthAdjust="spacingAndGlyphs">0.030</text>
<text x="974.05" y="349.1" text-anchor="end" font-size="6.4" textLength="17.74" lengthAdjust="spacingAndGlyphs">0.035</text>
<path d="M1002 571.25v2.1M1031.75 571.25v2.1M1061.5 571.25v2.1M1091.25 571.25v2.1M1121 571.25v2.1M1150.75 571.25v2.1M1180.5 571.25v2.1M978.25 571.25h-2.1M978.25 539.11h-2.1M978.25 506.96h-2.1M978.25 474.82h-2.1M978.25 442.68h-2.1M978.25 410.54h-2.1M978.25 378.39h-2.1M978.25 346.25h-2.1" stroke="#333" stroke-width="0.8"/>
<text x="1086.38" y="593.55" text-anchor="middle" font-size="13.4" textLength="14.77" lengthAdjust="spacingAndGlyphs">F7</text>
<text transform="translate(952.75 460.65) rotate(-90)" x="0" y="0" text-anchor="middle" font-size="13.4" textLength="46.38" lengthAdjust="spacingAndGlyphs">Density</text>
<rect x="1068" y="352" width="120.1" height="58.1" rx="2" fill="#fff" fill-opacity="0.8" stroke="#dcdcdc" stroke-width="0.9"/>
<rect x="1073.3" y="357.8" width="24.3" height="8.6" fill="#e14e12" fill-opacity="0.3"/>
<text x="1107.6" y="366.5" font-size="12.9" textLength="43.07" lengthAdjust="spacingAndGlyphs">Glioma</text>
<rect x="1073.3" y="376.1" width="24.3" height="8.6" fill="#2da255" fill-opacity="0.3"/>
<text x="1107.6" y="384.7" font-size="12.9" textLength="74.86" lengthAdjust="spacingAndGlyphs">Meningioma</text>
<rect x="1073.3" y="394.4" width="24.3" height="8.6" fill="#7570b3" fill-opacity="0.3"/>
<text x="1107.6" y="402.9" font-size="12.9" textLength="60.17" lengthAdjust="spacingAndGlyphs">Pit. tumor</text>
<text class="cb" x="956.4" y="630.7" font-size="17.6" textLength="28.9" lengthAdjust="spacingAndGlyphs">(h)</text>
<text class="cb" x="993.9" y="630.7" font-size="17.6" textLength="32.4" lengthAdjust="spacingAndGlyphs">F7:</text>
<text class="ci" x="1034.9" y="630.7" font-size="17.6" textLength="145.65" lengthAdjust="spacingAndGlyphs">Median intensity</text>
<clipPath id="ci"><rect x="39.25" y="679.25" width="218.25" height="228"/></clipPath>
<g clip-path="url(#ci)">
<path d="M49.13 809.5H57.05V907.25H49.13ZM57.05 867.9H64.97V907.25H57.05ZM64.97 883.78H72.89V907.25H64.97ZM72.89 871.74H80.81V907.25H72.89ZM80.81 871.74H88.74V907.25H80.81ZM88.74 861.15H96.66V907.25H88.74ZM96.66 871.01H104.58V907.25H96.66ZM104.58 862.43H112.5V907.25H104.58ZM112.5 868.09H120.42V907.25H112.5ZM120.42 862.43H128.34V907.25H120.42ZM128.34 866.99H136.26V907.25H128.34ZM136.26 870.64H144.18V907.25H136.26ZM144.18 876.12H152.1V907.25H144.18ZM152.1 885.24H160.03V907.25H152.1ZM160.03 892.54H167.95V907.25H160.03ZM167.95 897.11H175.87V907.25H167.95ZM175.87 901.67H183.79V907.25H175.87ZM183.79 903.13H191.71V907.25H183.79ZM191.71 904.41H199.63V907.25H191.71ZM199.63 905.32H207.55V907.25H199.63ZM207.55 906.23H215.47V907.25H207.55ZM215.47 906.78H223.39V907.25H215.47ZM223.39 906.78H231.32V907.25H223.39ZM231.32 906.78H239.24V907.25H231.32ZM239.24 906.23H247.16V907.25H239.24Z" fill="#e14e12" fill-opacity="0.3"/>
<path d="M49.13 824.1H57.05V907.25H49.13ZM57.05 835.05H64.97V907.25H57.05ZM64.97 844.72H72.89V907.25H64.97ZM72.89 850.02H80.81V907.25H72.89ZM80.81 850.75H88.74V907.25H80.81ZM88.74 868.09H96.66V907.25H88.74ZM96.66 875.57H104.58V907.25H96.66ZM104.58 864.98H112.5V907.25H104.58ZM112.5 873.93H120.42V907.25H112.5ZM120.42 889.44H128.34V907.25H120.42ZM128.34 885.24H136.26V907.25H128.34ZM136.26 885.24H144.18V907.25H136.26ZM144.18 884.33H152.1V907.25H144.18ZM152.1 888.89H160.03V907.25H152.1ZM160.03 893.46H167.95V907.25H160.03ZM167.95 897.11H175.87V907.25H167.95ZM175.87 900.76H183.79V907.25H175.87ZM183.79 903.49H191.71V907.25H183.79ZM191.71 905.32H199.63V907.25H191.71ZM199.63 906.23H207.55V907.25H199.63ZM207.55 906.78H215.47V907.25H207.55Z" fill="#2da255" fill-opacity="0.3"/>
<path d="M49.13 690.32H57.05V907.25H49.13ZM57.05 751.09H64.97V907.25H57.05ZM64.97 820.08H72.89V907.25H64.97ZM72.89 858.96H80.81V907.25H72.89ZM80.81 880.68H88.74V907.25H80.81ZM88.74 888.16H96.66V907.25H88.74ZM96.66 885.24H104.58V907.25H96.66ZM104.58 899.84H112.5V907.25H104.58ZM112.5 895.83H120.42V907.25H112.5ZM120.42 900.57H128.34V907.25H120.42ZM128.34 901.67H136.26V907.25H128.34ZM136.26 902.58H144.18V907.25H136.26ZM144.18 902.03H152.1V907.25H144.18ZM152.1 903.49H160.03V907.25H152.1ZM160.03 905.32H167.95V907.25H160.03ZM167.95 906.23H175.87V907.25H167.95ZM175.87 906.23H183.79V907.25H175.87ZM183.79 906.78H191.71V907.25H183.79Z" fill="#7570b3" fill-opacity="0.3"/>
<path d="M49.04 870.64C49.65 869.79 51.32 866.6 52.69 865.53C54.06 864.47 55.58 863.86 57.25 864.25C58.92 864.65 60.75 866.75 62.73 867.9C64.7 869.06 67.14 870.58 69.11 871.19C71.09 871.8 72.92 871.8 74.59 871.55C76.26 871.31 77.18 870.49 79.15 869.73C81.13 868.97 84.02 867.69 86.45 866.99C88.89 866.29 91.32 865.9 93.75 865.53C96.19 865.17 98.62 865.01 101.06 864.8C103.49 864.59 105.92 864.34 108.36 864.25C110.79 864.16 113.37 864.16 115.66 864.25C117.94 864.34 119.92 864.34 122.04 864.8C124.17 865.26 126.46 866.02 128.43 866.99C130.41 867.96 131.78 868.97 133.91 870.64C136.04 872.31 138.77 875.05 141.21 877.03C143.64 879.01 146.08 880.68 148.51 882.5C150.94 884.33 153.38 886.15 155.81 887.98C158.24 889.8 160.68 891.78 163.11 893.46C165.54 895.13 167.98 896.8 170.41 898.02C172.84 899.23 175.28 900.09 177.71 900.76C180.14 901.43 182.27 901.58 185.01 902.03C187.75 902.49 191.1 903.01 194.14 903.49C197.18 903.98 200.22 904.56 203.26 904.95C206.31 905.35 209.35 905.62 212.39 905.87C215.43 906.11 218.47 906.26 221.52 906.41C224.56 906.57 227.6 906.72 230.64 906.78C233.68 906.84 237.03 906.72 239.77 906.78C242.5 906.84 245.85 907.08 247.07 907.14" fill="none" stroke="#d9602a" stroke-width="1.05" stroke-linejoin="round"/>
<path d="M49.04 869.73C49.65 867.9 51.32 861.97 52.69 858.78C54.06 855.58 55.73 852.6 57.25 850.56C58.77 848.53 60.14 847.4 61.81 846.55C63.49 845.7 65.46 845.24 67.29 845.45C69.11 845.67 70.94 846.82 72.77 847.83C74.59 848.83 76.26 849.65 78.24 851.48C80.22 853.3 82.65 856.65 84.63 858.78C86.61 860.91 87.97 862.43 90.1 864.25C92.23 866.08 94.97 868.21 97.4 869.73C99.84 871.25 102.27 872.16 104.71 873.38C107.14 874.6 109.57 875.81 112.01 877.03C114.44 878.25 116.87 879.61 119.31 880.68C121.74 881.74 124.17 882.66 126.61 883.42C129.04 884.18 131.47 884.69 133.91 885.24C136.34 885.79 138.77 886.15 141.21 886.7C143.64 887.25 146.08 887.86 148.51 888.53C150.94 889.2 153.38 889.74 155.81 890.72C158.24 891.69 160.68 893.15 163.11 894.37C165.54 895.58 167.98 896.95 170.41 898.02C172.84 899.08 175.28 900 177.71 900.76C180.14 901.52 182.27 901.97 185.01 902.58C187.75 903.19 191.1 903.89 194.14 904.41C197.18 904.92 200.22 905.35 203.26 905.68C206.31 906.02 209.35 906.23 212.39 906.41C215.43 906.6 219.99 906.72 221.52 906.78" fill="none" stroke="#2e9e55" stroke-width="1.05" stroke-linejoin="round"/>
<path d="M49.04 814.97C49.49 809.35 50.86 790.49 51.78 781.21C52.69 771.93 53.6 764.17 54.51 759.31C55.43 754.44 56.34 752.61 57.25 752.01C58.16 751.4 59.08 752.61 59.99 755.66C60.9 758.7 61.66 763.57 62.73 770.26C63.79 776.95 65.16 787.29 66.38 795.81C67.59 804.33 68.81 813.45 70.03 821.36C71.24 829.27 72.46 836.88 73.68 843.26C74.89 849.65 76.11 854.82 77.33 859.69C78.54 864.56 79.76 869.12 80.98 872.47C82.2 875.81 83.41 877.64 84.63 879.77C85.85 881.9 86.76 883.72 88.28 885.24C89.8 886.76 91.93 887.68 93.75 888.89C95.58 890.11 97.4 891.48 99.23 892.54C101.06 893.61 102.58 894.52 104.71 895.28C106.83 896.04 109.57 896.65 112.01 897.11C114.44 897.56 116.87 897.56 119.31 898.02C121.74 898.47 123.87 899.3 126.61 899.84C129.34 900.39 132.69 900.94 135.73 901.3C138.77 901.67 142.12 901.91 144.86 902.03C147.6 902.16 149.73 901.79 152.16 902.03C154.59 902.28 157.03 902.95 159.46 903.49C161.89 904.04 164.02 904.86 166.76 905.32C169.5 905.77 172.84 905.99 175.89 906.23C178.93 906.47 183.49 906.69 185.01 906.78" fill="none" stroke="#7570b3" stroke-width="1.05" stroke-linejoin="round"/>
</g>
<rect x="39.25" y="679.25" width="218.25" height="228" fill="none" stroke="#6a6a6a" stroke-width="1"/>
<text x="49.25" y="916.75" text-anchor="middle" font-size="6.4" textLength="3.94" lengthAdjust="spacingAndGlyphs">0</text>
<text x="74.97" y="916.75" text-anchor="middle" font-size="6.4" textLength="7.89" lengthAdjust="spacingAndGlyphs">10</text>
<text x="100.69" y="916.75" text-anchor="middle" font-size="6.4" textLength="7.89" lengthAdjust="spacingAndGlyphs">20</text>
<text x="126.41" y="916.75" text-anchor="middle" font-size="6.4" textLength="7.89" lengthAdjust="spacingAndGlyphs">30</text>
<text x="152.12" y="916.75" text-anchor="middle" font-size="6.4" textLength="7.89" lengthAdjust="spacingAndGlyphs">40</text>
<text x="177.84" y="916.75" text-anchor="middle" font-size="6.4" textLength="7.89" lengthAdjust="spacingAndGlyphs">50</text>
<text x="203.56" y="916.75" text-anchor="middle" font-size="6.4" textLength="7.89" lengthAdjust="spacingAndGlyphs">60</text>
<text x="229.28" y="916.75" text-anchor="middle" font-size="6.4" textLength="7.89" lengthAdjust="spacingAndGlyphs">70</text>
<text x="255" y="916.75" text-anchor="middle" font-size="6.4" textLength="7.89" lengthAdjust="spacingAndGlyphs">80</text>
<text x="35.05" y="910.1" text-anchor="end" font-size="6.4" textLength="13.8" lengthAdjust="spacingAndGlyphs">0.00</text>
<text x="35.05" y="871.7" text-anchor="end" font-size="6.4" textLength="13.8" lengthAdjust="spacingAndGlyphs">0.02</text>
<text x="35.05" y="833.3" text-anchor="end" font-size="6.4" textLength="13.8" lengthAdjust="spacingAndGlyphs">0.04</text>
<text x="35.05" y="794.9" text-anchor="end" font-size="6.4" textLength="13.8" lengthAdjust="spacingAndGlyphs">0.06</text>
<text x="35.05" y="756.5" text-anchor="end" font-size="6.4" textLength="13.8" lengthAdjust="spacingAndGlyphs">0.08</text>
<text x="35.05" y="718.1" text-anchor="end" font-size="6.4" textLength="13.8" lengthAdjust="spacingAndGlyphs">0.10</text>
<path d="M49.25 907.25v2.1M74.97 907.25v2.1M100.69 907.25v2.1M126.41 907.25v2.1M152.12 907.25v2.1M177.84 907.25v2.1M203.56 907.25v2.1M229.28 907.25v2.1M255 907.25v2.1M39.25 907.25h-2.1M39.25 868.85h-2.1M39.25 830.45h-2.1M39.25 792.05h-2.1M39.25 753.65h-2.1M39.25 715.25h-2.1" stroke="#333" stroke-width="0.8"/>
<text x="148.38" y="929.55" text-anchor="middle" font-size="13.4" textLength="14.77" lengthAdjust="spacingAndGlyphs">F8</text>
<text transform="translate(17.75 795.15) rotate(-90)" x="0" y="0" text-anchor="middle" font-size="13.4" textLength="46.38" lengthAdjust="spacingAndGlyphs">Density</text>
<rect x="131.25" y="685.5" width="120.1" height="58.1" rx="2" fill="#fff" fill-opacity="0.8" stroke="#dcdcdc" stroke-width="0.9"/>
<rect x="136.55" y="691.3" width="24.3" height="8.6" fill="#e14e12" fill-opacity="0.3"/>
<text x="170.85" y="700" font-size="12.9" textLength="43.07" lengthAdjust="spacingAndGlyphs">Glioma</text>
<rect x="136.55" y="709.6" width="24.3" height="8.6" fill="#2da255" fill-opacity="0.3"/>
<text x="170.85" y="718.2" font-size="12.9" textLength="74.86" lengthAdjust="spacingAndGlyphs">Meningioma</text>
<rect x="136.55" y="727.9" width="24.3" height="8.6" fill="#7570b3" fill-opacity="0.3"/>
<text x="170.85" y="736.4" font-size="12.9" textLength="60.17" lengthAdjust="spacingAndGlyphs">Pit. tumor</text>
<text class="cb" x="14.4" y="966.7" font-size="17.6" textLength="22.8" lengthAdjust="spacingAndGlyphs">(i)</text>
<text class="cb" x="45.8" y="966.7" font-size="17.6" textLength="32.4" lengthAdjust="spacingAndGlyphs">F8:</text>
<text class="ci" x="86.8" y="966.7" font-size="17.6" textLength="166.25" lengthAdjust="spacingAndGlyphs">Minimum intensity</text>
<clipPath id="cj"><rect x="354.5" y="679.25" width="216.75" height="228"/></clipPath>
<g clip-path="url(#cj)">
<path d="M380.7 902.43H388.57V907.25H380.7ZM388.57 896.98H396.43V907.25H388.57ZM396.43 881.54H404.3V907.25H396.43ZM404.3 862.47H412.17V907.25H404.3ZM412.17 864.29H420.03V907.25H412.17ZM420.03 864.29H427.9V907.25H420.03ZM427.9 847.03H435.76V907.25H427.9ZM435.76 833.41H443.63V907.25H435.76ZM443.63 843.4H451.49V907.25H443.63ZM451.49 817.96H459.36V907.25H451.49ZM459.36 806.16H467.22V907.25H459.36ZM467.22 804.34H475.09V907.25H467.22ZM475.09 841.58H482.96V907.25H475.09ZM482.96 838.85H490.82V907.25H482.96ZM490.82 847.94H498.69V907.25H490.82ZM498.69 847.03H506.55V907.25H498.69ZM506.55 860.65H514.42V907.25H506.55ZM514.42 873.37H522.28V907.25H514.42ZM522.28 878.82H530.15V907.25H522.28ZM530.15 885.18H538.01V907.25H530.15ZM538.01 895.17H545.88V907.25H538.01ZM545.88 897.89H553.75V907.25H545.88ZM553.75 879.73H561.61V907.25H553.75Z" fill="#e14e12" fill-opacity="0.3"/>
<path d="M420.03 890.63H427.9V907.25H420.03ZM427.9 883.36H435.76V907.25H427.9ZM435.76 869.74H443.63V907.25H435.76ZM443.63 849.75H451.49V907.25H443.63ZM451.49 827.96H459.36V907.25H451.49ZM459.36 811.61H467.22V907.25H459.36ZM467.22 754.02H475.09V907.25H467.22ZM475.09 795.26H482.96V907.25H475.09ZM482.96 769.83H490.82V907.25H482.96ZM490.82 767.65H498.69V907.25H490.82ZM498.69 823.41H506.55V907.25H498.69ZM506.55 846.12H514.42V907.25H506.55ZM514.42 864.29H522.28V907.25H514.42ZM522.28 883.36H530.15V907.25H522.28ZM530.15 886.08H538.01V907.25H530.15ZM538.01 895.17H545.88V907.25H538.01ZM545.88 896.98H553.75V907.25H545.88ZM553.75 899.71H561.61V907.25H553.75Z" fill="#2da255" fill-opacity="0.3"/>
<path d="M396.43 905.16H404.3V907.25H396.43ZM404.3 904.25H412.17V907.25H404.3ZM412.17 903.34H420.03V907.25H412.17ZM420.03 896.98H427.9V907.25H420.03ZM427.9 883.36H435.76V907.25H427.9ZM435.76 867.92H443.63V907.25H435.76ZM443.63 853.39H451.49V907.25H443.63ZM451.49 847.03H459.36V907.25H451.49ZM459.36 812.51H467.22V907.25H459.36ZM467.22 795.26H475.09V907.25H467.22ZM475.09 765.29H482.96V907.25H475.09ZM482.96 782.54H490.82V907.25H482.96ZM490.82 795.26H498.69V907.25H490.82ZM498.69 823.41H506.55V907.25H498.69ZM506.55 823.41H514.42V907.25H506.55ZM514.42 840.67H522.28V907.25H514.42ZM522.28 875.19H530.15V907.25H522.28ZM530.15 878.82H538.01V907.25H530.15ZM538.01 895.17H545.88V907.25H538.01ZM545.88 896.98H553.75V907.25H545.88ZM553.75 872.46H561.61V907.25H553.75Z" fill="#7570b3" fill-opacity="0.3"/>
<path d="M364.9 905.16C366.11 904.86 369.74 904.25 372.17 903.34C374.59 902.43 377.01 901.68 379.43 899.71C381.85 897.74 384.28 894.71 386.7 891.53C389.12 888.36 391.54 883.97 393.96 880.63C396.39 877.3 398.81 874.28 401.23 871.55C403.65 868.83 406.07 866.1 408.5 864.29C410.92 862.47 413.34 862.32 415.76 860.65C418.18 858.99 420.61 856.72 423.03 854.3C425.45 851.87 427.87 849 430.29 846.12C432.72 843.24 435.14 839.91 437.56 837.04C439.98 834.16 442.4 831.29 444.83 828.86C447.25 826.44 449.67 824.32 452.09 822.51C454.51 820.69 457.24 818.87 459.36 817.96C461.48 817.06 462.99 816.75 464.81 817.06C466.62 817.36 468.44 818.57 470.26 819.78C472.07 820.99 473.89 822.66 475.71 824.32C477.52 825.99 479.04 827.65 481.16 829.77C483.28 831.89 486 834.62 488.42 837.04C490.85 839.46 493.27 842.18 495.69 844.3C498.11 846.42 500.53 847.33 502.96 849.75C505.38 852.18 507.8 855.51 510.22 858.84C512.64 862.17 515.07 866.41 517.49 869.74C519.91 873.07 522.33 876.09 524.75 878.82C527.18 881.54 529.6 884.12 532.02 886.08C534.44 888.05 536.86 889.57 539.29 890.63C541.71 891.69 544.13 891.99 546.55 892.44C548.97 892.9 551.4 892.59 553.82 893.35C556.24 894.11 559.87 896.38 561.08 896.98" fill="none" stroke="#d9602a" stroke-width="1.05" stroke-linejoin="round"/>
<path d="M419.4 896.98C420.61 895.47 424.24 891.23 426.66 887.9C429.08 884.57 431.51 881.54 433.93 877C436.35 872.46 438.77 866.41 441.19 860.65C443.62 854.9 446.04 849.15 448.46 842.49C450.88 835.83 453.61 827.96 455.73 820.69C457.84 813.42 459.36 804.64 461.18 798.89C462.99 793.14 464.81 789.05 466.62 786.18C468.44 783.3 470.26 782.39 472.07 781.63C473.89 780.88 475.86 781.79 477.52 781.63C479.19 781.48 480.4 781.33 482.07 780.73C483.73 780.12 485.85 777.4 487.51 778C489.18 778.61 490.39 781.18 492.06 784.36C493.72 787.54 495.69 791.93 497.51 797.07C499.32 802.22 501.14 808.88 502.96 815.24C504.77 821.6 506.59 828.86 508.41 835.22C510.22 841.58 512.04 847.94 513.85 853.39C515.67 858.84 517.49 863.98 519.3 867.92C521.12 871.85 522.63 874.28 524.75 877C526.87 879.73 529.6 882.15 532.02 884.27C534.44 886.39 536.86 888.05 539.29 889.72C541.71 891.38 544.13 892.9 546.55 894.26C548.97 895.62 551.4 896.68 553.82 897.89C556.24 899.1 559.87 900.92 561.08 901.52" fill="none" stroke="#2e9e55" stroke-width="1.05" stroke-linejoin="round"/>
<path d="M395.78 906.07C397.29 905.91 402.14 905.61 404.86 905.16C407.59 904.7 409.71 904.7 412.13 903.34C414.55 901.98 416.97 899.56 419.4 896.98C421.82 894.41 424.24 891.53 426.66 887.9C429.08 884.27 431.51 879.73 433.93 875.19C436.35 870.64 438.77 865.8 441.19 860.65C443.62 855.51 446.04 849.75 448.46 844.3C450.88 838.85 453.3 833.1 455.73 827.96C458.15 822.81 460.57 818.27 462.99 813.42C465.41 808.58 468.14 803.43 470.26 798.89C472.38 794.35 473.89 789.66 475.71 786.18C477.52 782.69 479.64 779.51 481.16 778C482.67 776.49 483.43 776.64 484.79 777.09C486.15 777.55 487.51 778.3 489.33 780.73C491.15 783.15 493.72 787.39 495.69 791.62C497.66 795.86 499.32 801.31 501.14 806.16C502.96 811 504.77 815.85 506.59 820.69C508.41 825.53 510.22 830.68 512.04 835.22C513.85 839.76 515.67 843.7 517.49 847.94C519.3 852.18 521.12 856.72 522.94 860.65C524.75 864.59 526.57 868.22 528.39 871.55C530.2 874.88 532.02 878.06 533.84 880.63C535.65 883.21 537.47 885.48 539.29 886.99C541.1 888.51 542.92 889.26 544.74 889.72C546.55 890.17 548.37 889.72 550.19 889.72C552 889.72 553.82 889.26 555.63 889.72C557.45 890.17 560.18 891.99 561.08 892.44" fill="none" stroke="#7570b3" stroke-width="1.05" stroke-linejoin="round"/>
</g>
<rect x="354.5" y="679.25" width="216.75" height="228" fill="none" stroke="#6a6a6a" stroke-width="1"/>
<text x="368" y="916.75" text-anchor="middle" font-size="6.4" textLength="7.89" lengthAdjust="spacingAndGlyphs">50</text>
<text x="415.06" y="916.75" text-anchor="middle" font-size="6.4" textLength="11.83" lengthAdjust="spacingAndGlyphs">100</text>
<text x="462.12" y="916.75" text-anchor="middle" font-size="6.4" textLength="11.83" lengthAdjust="spacingAndGlyphs">150</text>
<text x="509.19" y="916.75" text-anchor="middle" font-size="6.4" textLength="11.83" lengthAdjust="spacingAndGlyphs">200</text>
<text x="556.25" y="916.75" text-anchor="middle" font-size="6.4" textLength="11.83" lengthAdjust="spacingAndGlyphs">250</text>
<text x="350.3" y="910.1" text-anchor="end" font-size="6.4" textLength="17.74" lengthAdjust="spacingAndGlyphs">0.000</text>
<text x="350.3" y="862.6" text-anchor="end" font-size="6.4" textLength="17.74" lengthAdjust="spacingAndGlyphs">0.005</text>
<text x="350.3" y="815.1" text-anchor="end" font-size="6.4" textLength="17.74" lengthAdjust="spacingAndGlyphs">0.010</text>
<text x="350.3" y="767.6" text-anchor="end" font-size="6.4" textLength="17.74" lengthAdjust="spacingAndGlyphs">0.015</text>
<text x="350.3" y="720.1" text-anchor="end" font-size="6.4" textLength="17.74" lengthAdjust="spacingAndGlyphs">0.020</text>
<path d="M368 907.25v2.1M415.06 907.25v2.1M462.12 907.25v2.1M509.19 907.25v2.1M556.25 907.25v2.1M354.5 907.25h-2.1M354.5 859.75h-2.1M354.5 812.25h-2.1M354.5 764.75h-2.1M354.5 717.25h-2.1" stroke="#333" stroke-width="0.8"/>
<text x="462.88" y="929.55" text-anchor="middle" font-size="13.4" textLength="14.77" lengthAdjust="spacingAndGlyphs">F9</text>
<text transform="translate(329.5 795.15) rotate(-90)" x="0" y="0" text-anchor="middle" font-size="13.4" textLength="46.38" lengthAdjust="spacingAndGlyphs">Density</text>
<rect x="444.5" y="685.5" width="120.1" height="58.1" rx="2" fill="#fff" fill-opacity="0.8" stroke="#dcdcdc" stroke-width="0.9"/>
<rect x="449.8" y="691.3" width="24.3" height="8.6" fill="#e14e12" fill-opacity="0.3"/>
<text x="484.1" y="700" font-size="12.9" textLength="43.07" lengthAdjust="spacingAndGlyphs">Glioma</text>
<rect x="449.8" y="709.6" width="24.3" height="8.6" fill="#2da255" fill-opacity="0.3"/>
<text x="484.1" y="718.2" font-size="12.9" textLength="74.86" lengthAdjust="spacingAndGlyphs">Meningioma</text>
<rect x="449.8" y="727.9" width="24.3" height="8.6" fill="#7570b3" fill-opacity="0.3"/>
<text x="484.1" y="736.4" font-size="12.9" textLength="60.17" lengthAdjust="spacingAndGlyphs">Pit. tumor</text>
<text class="cb" x="324.4" y="966.7" font-size="17.6" textLength="23.9" lengthAdjust="spacingAndGlyphs">(j)</text>
<text class="cb" x="356.9" y="966.7" font-size="17.6" textLength="32.4" lengthAdjust="spacingAndGlyphs">F9:</text>
<text class="ci" x="397.9" y="966.7" font-size="17.6" textLength="167.65" lengthAdjust="spacingAndGlyphs">Maximum intensity</text>
<clipPath id="ck"><rect x="666.25" y="679.25" width="216.75" height="228"/></clipPath>
<g clip-path="url(#ck)">
<path d="M675.99 901.52H683.87V907.25H675.99ZM683.87 896.08H691.76V907.25H683.87ZM691.76 883.9H699.64V907.25H691.76ZM699.64 879.36H707.53V907.25H699.64ZM707.53 872.28H715.41V907.25H707.53ZM715.41 872.28H723.29V907.25H715.41ZM723.29 859.38H731.18V907.25H723.29ZM731.18 856.11H739.06V907.25H731.18ZM739.06 842.12H746.94V907.25H739.06ZM746.94 839.76H754.83V907.25H746.94ZM754.83 821.23H762.71V907.25H754.83ZM762.71 815.6H770.6V907.25H762.71ZM770.6 818.87H778.48V907.25H770.6ZM778.48 836.13H786.36V907.25H778.48ZM786.36 837.04H794.25V907.25H786.36ZM794.25 847.03H802.13V907.25H794.25ZM802.13 850.66H810.01V907.25H802.13ZM810.01 866.1H817.9V907.25H810.01ZM817.9 873.37H825.78V907.25H817.9ZM825.78 882.45H833.67V907.25H825.78ZM833.67 891.53H841.55V907.25H833.67ZM841.55 892.44H849.43V907.25H841.55ZM849.43 899.71H857.32V907.25H849.43ZM857.32 901.52H865.2V907.25H857.32ZM865.2 900.98H873.08V907.25H865.2Z" fill="#e14e12" fill-opacity="0.3"/>
<path d="M707.53 901.89H715.41V907.25H707.53ZM715.41 901.89H723.29V907.25H715.41ZM723.29 890.99H731.18V907.25H723.29ZM731.18 885.36H739.06V907.25H731.18ZM739.06 865.92H746.94V907.25H739.06ZM746.94 865.92H754.83V907.25H746.94ZM754.83 838.85H762.71V907.25H754.83ZM762.71 801.62H770.6V907.25H762.71ZM770.6 772.55H778.48V907.25H770.6ZM778.48 813.42H786.36V907.25H778.48ZM786.36 781.63H794.25V907.25H786.36ZM794.25 803.43H802.13V907.25H794.25ZM802.13 834.86H810.01V907.25H802.13ZM810.01 844.3H817.9V907.25H810.01ZM817.9 853.39H825.78V907.25H817.9ZM825.78 877H833.67V907.25H825.78ZM833.67 886.08H841.55V907.25H833.67ZM841.55 891.53H849.43V907.25H841.55ZM849.43 896.98H857.32V907.25H849.43ZM857.32 902.43H865.2V907.25H857.32ZM865.2 904.25H873.08V907.25H865.2Z" fill="#2da255" fill-opacity="0.3"/>
<path d="M707.53 906.07H715.41V907.25H707.53ZM715.41 904.25H723.29V907.25H715.41ZM723.29 898.26H731.18V907.25H723.29ZM731.18 902.98H739.06V907.25H731.18ZM739.06 896.98H746.94V907.25H739.06ZM746.94 874.28H754.83V907.25H746.94ZM754.83 866.28H762.71V907.25H754.83ZM762.71 845.21H770.6V907.25H762.71ZM770.6 813.42H778.48V907.25H770.6ZM778.48 804.34H786.36V907.25H778.48ZM786.36 795.26H794.25V907.25H786.36ZM794.25 772.55H802.13V907.25H794.25ZM802.13 779.82H810.01V907.25H802.13ZM810.01 835.22H817.9V907.25H810.01ZM817.9 832.13H825.78V907.25H817.9ZM825.78 854.3H833.67V907.25H825.78ZM833.67 880.63H841.55V907.25H833.67ZM841.55 882.45H849.43V907.25H841.55ZM849.43 894.26H857.32V907.25H849.43ZM857.32 894.26H865.2V907.25H857.32ZM865.2 883.9H873.08V907.25H865.2Z" fill="#7570b3" fill-opacity="0.3"/>
<path d="M675.99 902.43C677.35 900.92 681.5 896.38 684.17 893.35C686.83 890.32 689.34 886.69 691.98 884.27C694.61 881.85 697.34 880.63 699.97 878.82C702.6 877 705.18 875.03 707.78 873.37C710.38 871.7 712.96 870.49 715.59 868.83C718.23 867.16 720.95 865.35 723.58 863.38C726.22 861.41 728.88 859.29 731.4 857.02C733.91 854.75 736.24 852.48 738.66 849.75C741.08 847.03 743.51 843.7 745.93 840.67C748.35 837.64 750.77 834.16 753.19 831.59C755.62 829.02 758.34 826.59 760.46 825.23C762.58 823.87 764.09 823.41 765.91 823.41C767.73 823.41 769.24 824.32 771.36 825.23C773.48 826.14 776.2 827.5 778.62 828.86C781.05 830.23 783.47 831.74 785.89 833.41C788.31 835.07 790.74 836.74 793.16 838.85C795.58 840.97 798 843.7 800.42 846.12C802.85 848.54 805.27 850.66 807.69 853.39C810.11 856.11 812.53 859.44 814.96 862.47C817.38 865.5 819.8 868.52 822.22 871.55C824.64 874.58 827.07 877.91 829.49 880.63C831.91 883.36 834.33 885.93 836.75 887.9C839.18 889.87 841.6 891.08 844.02 892.44C846.44 893.8 848.86 894.86 851.29 896.08C853.71 897.29 856.13 898.65 858.55 899.71C860.97 900.77 863.4 901.68 865.82 902.43C868.24 903.19 871.87 903.95 873.08 904.25" fill="none" stroke="#d9602a" stroke-width="1.05" stroke-linejoin="round"/>
<path d="M710.5 903.34C711.56 902.74 714.59 901.07 716.86 899.71C719.13 898.35 721.71 896.68 724.13 895.17C726.55 893.65 728.97 892.75 731.4 890.63C733.82 888.51 736.24 885.93 738.66 882.45C741.08 878.97 743.51 875.19 745.93 869.74C748.35 864.29 751.07 856.11 753.19 849.75C755.31 843.4 756.83 837.64 758.64 831.59C760.46 825.53 762.28 818.57 764.09 813.42C765.91 808.28 767.73 803.74 769.54 800.71C771.36 797.68 773.18 796.53 774.99 795.26C776.81 793.99 778.62 793.53 780.44 793.08C782.26 792.62 784.07 792.17 785.89 792.53C787.71 792.9 789.83 794.2 791.34 795.26C792.85 796.32 793.46 796.47 794.97 798.89C796.49 801.31 798.61 805.25 800.42 809.79C802.24 814.33 804.06 820.69 805.87 826.14C807.69 831.59 809.51 837.64 811.32 842.49C813.14 847.33 814.96 850.96 816.77 855.2C818.59 859.44 820.41 863.98 822.22 867.92C824.04 871.85 825.85 875.79 827.67 878.82C829.49 881.85 831 883.81 833.12 886.08C835.24 888.36 837.96 890.63 840.39 892.44C842.81 894.26 845.23 895.77 847.65 896.98C850.08 898.19 852.5 898.8 854.92 899.71C857.34 900.62 859.76 901.68 862.19 902.43C864.61 903.19 868.24 903.95 869.45 904.25" fill="none" stroke="#2e9e55" stroke-width="1.05" stroke-linejoin="round"/>
<path d="M709.6 906.07C710.81 905.61 714.44 904.1 716.86 903.34C719.28 902.58 721.71 902.13 724.13 901.52C726.55 900.92 729.28 900.47 731.4 899.71C733.51 898.95 735.03 898.95 736.84 896.98C738.66 895.02 740.48 891.53 742.29 887.9C744.11 884.27 745.93 879.73 747.74 875.19C749.56 870.64 751.38 865.5 753.19 860.65C755.01 855.81 756.83 850.66 758.64 846.12C760.46 841.58 762.28 837.64 764.09 833.41C765.91 829.17 767.73 824.63 769.54 820.69C771.36 816.75 773.18 813.12 774.99 809.79C776.81 806.46 778.62 803.43 780.44 800.71C782.26 797.98 784.07 795.56 785.89 793.44C787.71 791.32 789.83 789.57 791.34 787.99C792.85 786.42 793.76 784.9 794.97 784C796.18 783.09 797.4 782.18 798.61 782.54C799.82 782.91 801.03 784.06 802.24 786.18C803.45 788.29 804.36 791.32 805.87 795.26C807.39 799.19 809.51 804.34 811.32 809.79C813.14 815.24 814.96 822.51 816.77 827.96C818.59 833.41 820.41 838.25 822.22 842.49C824.04 846.73 825.85 849.45 827.67 853.39C829.49 857.32 831.3 862.17 833.12 866.1C834.94 870.04 836.75 873.97 838.57 877C840.39 880.03 842.2 882.3 844.02 884.27C845.84 886.24 847.65 887.75 849.47 888.81C851.29 889.87 853.1 890.32 854.92 890.63C856.74 890.93 858.55 890.47 860.37 890.63C862.19 890.78 863.7 890.47 865.82 891.53C867.94 892.59 871.87 896.08 873.08 896.98" fill="none" stroke="#7570b3" stroke-width="1.05" stroke-linejoin="round"/>
</g>
<rect x="666.25" y="679.25" width="216.75" height="228" fill="none" stroke="#6a6a6a" stroke-width="1"/>
<text x="696.25" y="916.75" text-anchor="middle" font-size="6.4" textLength="7.89" lengthAdjust="spacingAndGlyphs">50</text>
<text x="739.31" y="916.75" text-anchor="middle" font-size="6.4" textLength="11.83" lengthAdjust="spacingAndGlyphs">100</text>
<text x="782.38" y="916.75" text-anchor="middle" font-size="6.4" textLength="11.83" lengthAdjust="spacingAndGlyphs">150</text>
<text x="825.44" y="916.75" text-anchor="middle" font-size="6.4" textLength="11.83" lengthAdjust="spacingAndGlyphs">200</text>
<text x="868.5" y="916.75" text-anchor="middle" font-size="6.4" textLength="11.83" lengthAdjust="spacingAndGlyphs">250</text>
<text x="662.05" y="910.1" text-anchor="end" font-size="6.4" textLength="17.74" lengthAdjust="spacingAndGlyphs">0.000</text>
<text x="662.05" y="862.6" text-anchor="end" font-size="6.4" textLength="17.74" lengthAdjust="spacingAndGlyphs">0.005</text>
<text x="662.05" y="815.1" text-anchor="end" font-size="6.4" textLength="17.74" lengthAdjust="spacingAndGlyphs">0.010</text>
<text x="662.05" y="767.6" text-anchor="end" font-size="6.4" textLength="17.74" lengthAdjust="spacingAndGlyphs">0.015</text>
<text x="662.05" y="720.1" text-anchor="end" font-size="6.4" textLength="17.74" lengthAdjust="spacingAndGlyphs">0.020</text>
<path d="M696.25 907.25v2.1M739.31 907.25v2.1M782.38 907.25v2.1M825.44 907.25v2.1M868.5 907.25v2.1M666.25 907.25h-2.1M666.25 859.75h-2.1M666.25 812.25h-2.1M666.25 764.75h-2.1M666.25 717.25h-2.1" stroke="#333" stroke-width="0.8"/>
<text x="774.62" y="929.55" text-anchor="middle" font-size="13.4" textLength="22.53" lengthAdjust="spacingAndGlyphs">F10</text>
<text transform="translate(641 795.15) rotate(-90)" x="0" y="0" text-anchor="middle" font-size="13.4" textLength="46.38" lengthAdjust="spacingAndGlyphs">Density</text>
<rect x="756.75" y="685.5" width="120.1" height="58.1" rx="2" fill="#fff" fill-opacity="0.8" stroke="#dcdcdc" stroke-width="0.9"/>
<rect x="762.05" y="691.3" width="24.3" height="8.6" fill="#e14e12" fill-opacity="0.3"/>
<text x="796.35" y="700" font-size="12.9" textLength="43.07" lengthAdjust="spacingAndGlyphs">Glioma</text>
<rect x="762.05" y="709.6" width="24.3" height="8.6" fill="#2da255" fill-opacity="0.3"/>
<text x="796.35" y="718.2" font-size="12.9" textLength="74.86" lengthAdjust="spacingAndGlyphs">Meningioma</text>
<rect x="762.05" y="727.9" width="24.3" height="8.6" fill="#7570b3" fill-opacity="0.3"/>
<text x="796.35" y="736.4" font-size="12.9" textLength="60.17" lengthAdjust="spacingAndGlyphs">Pit. tumor</text>
<text class="cb" x="685.15" y="966.7" font-size="17.6" textLength="28.6" lengthAdjust="spacingAndGlyphs">(k)</text>
<text class="cb" x="722.35" y="966.7" font-size="17.6" textLength="43.8" lengthAdjust="spacingAndGlyphs">F10:</text>
<text class="ci" x="774.75" y="966.7" font-size="17.6" textLength="54.05" lengthAdjust="spacingAndGlyphs">Range</text>
<clipPath id="cl"><rect x="964.5" y="681.75" width="228" height="225.5"/></clipPath>
<g clip-path="url(#cl)">
<path d="M975.07 896.65H983.37V907.25H975.07ZM983.37 877.56H991.67V907.25H983.37ZM991.67 851.8H999.97V907.25H991.67ZM999.97 830.81H1008.27V907.25H999.97ZM1008.27 816.5H1016.58V907.25H1008.27ZM1016.58 790.73H1024.88V907.25H1016.58ZM1024.88 797.79H1033.18V907.25H1024.88ZM1033.18 797.22H1041.48V907.25H1033.18ZM1041.48 785.96H1049.78V907.25H1041.48ZM1049.78 794.55H1058.08V907.25H1049.78ZM1058.08 799.32H1066.39V907.25H1058.08ZM1066.39 817.45H1074.69V907.25H1066.39ZM1074.69 828.9H1082.99V907.25H1074.69ZM1082.99 854.66H1091.29V907.25H1082.99ZM1091.29 871.84H1099.59V907.25H1091.29ZM1099.59 885.2H1107.89V907.25H1099.59ZM1107.89 876.61H1116.19V907.25H1107.89ZM1116.19 885.2H1124.5V907.25H1116.19ZM1124.5 888.06H1132.8V907.25H1124.5ZM1132.8 899.51H1141.1V907.25H1132.8ZM1141.1 899.51H1149.4V907.25H1141.1ZM1149.4 898.56H1157.7V907.25H1149.4ZM1157.7 902.37H1166V907.25H1157.7ZM1166 904.28H1174.31V907.25H1166ZM1174.31 905.81H1182.61V907.25H1174.31Z" fill="#e14e12" fill-opacity="0.3"/>
<path d="M975.07 896.65H983.37V907.25H975.07ZM983.37 847.98H991.67V907.25H983.37ZM991.67 767.26H999.97V907.25H991.67ZM999.97 724.32H1008.27V907.25H999.97ZM1008.27 719.55H1016.58V907.25H1008.27ZM1016.58 749.51H1024.88V907.25H1016.58ZM1024.88 767.26H1033.18V907.25H1024.88ZM1033.18 762.87H1041.48V907.25H1033.18ZM1041.48 784.24H1049.78V907.25H1041.48ZM1049.78 827.95H1058.08V907.25H1049.78ZM1058.08 870.89H1066.39V907.25H1058.08ZM1066.39 861.34H1074.69V907.25H1066.39ZM1074.69 887.11H1082.99V907.25H1074.69ZM1082.99 904.28H1091.29V907.25H1082.99ZM1091.29 898.18H1099.59V907.25H1091.29ZM1099.59 900.47H1107.89V907.25H1099.59ZM1107.89 903.33H1116.19V907.25H1107.89Z" fill="#2da255" fill-opacity="0.3"/>
<path d="M975.07 871.84H983.37V907.25H975.07ZM983.37 798.18H991.67V907.25H983.37ZM991.67 722.22H999.97V907.25H991.67ZM999.97 740.92H1008.27V907.25H999.97ZM1008.27 692.07H1016.58V907.25H1008.27ZM1016.58 729.66H1024.88V907.25H1016.58ZM1024.88 760.2H1033.18V907.25H1024.88ZM1033.18 807.34H1041.48V907.25H1033.18ZM1041.48 827.95H1049.78V907.25H1041.48ZM1049.78 858.48H1058.08V907.25H1049.78ZM1058.08 890.92H1066.39V907.25H1058.08ZM1066.39 891.88H1074.69V907.25H1066.39ZM1074.69 896.65H1082.99V907.25H1074.69ZM1082.99 904.28H1091.29V907.25H1082.99Z" fill="#7570b3" fill-opacity="0.3"/>
<path d="M977.36 892.83C978.31 890.92 981.18 885.2 983.08 881.38C984.99 877.56 986.9 874.07 988.81 869.93C990.72 865.8 992.63 861.03 994.53 856.57C996.44 852.12 998.35 847.67 1000.26 843.21C1002.17 838.76 1004.08 833.99 1005.98 829.85C1007.89 825.72 1009.8 822.06 1011.71 818.4C1013.62 814.75 1015.53 811.09 1017.44 807.91C1019.34 804.73 1021.25 801.39 1023.16 799.32C1025.07 797.25 1026.66 796.14 1028.89 795.5C1031.11 794.87 1033.97 795.5 1036.52 795.5C1039.06 795.5 1041.61 795.5 1044.15 795.5C1046.7 795.5 1049.24 795.19 1051.79 795.5C1054.33 795.82 1057.19 796.14 1059.42 797.41C1061.65 798.68 1063.24 800.59 1065.15 803.14C1067.05 805.68 1068.96 809.18 1070.87 812.68C1072.78 816.18 1074.69 819.99 1076.6 824.13C1078.5 828.26 1080.41 833.04 1082.32 837.49C1084.23 841.94 1086.14 846.39 1088.05 850.85C1089.95 855.3 1091.86 860.39 1093.77 864.21C1095.68 868.02 1097.59 871.36 1099.5 873.75C1101.4 876.13 1102.99 876.93 1105.22 878.52C1107.45 880.11 1110.31 881.86 1112.85 883.29C1115.4 884.72 1117.94 885.52 1120.49 887.11C1123.03 888.7 1125.58 891.24 1128.12 892.83C1130.67 894.42 1133.21 895.63 1135.76 896.65C1138.3 897.67 1140.84 898.46 1143.39 898.94C1145.93 899.42 1148.48 899.26 1151.02 899.51C1153.57 899.77 1156.11 899.99 1158.66 900.47C1161.2 900.94 1163.75 901.74 1166.29 902.37C1168.83 903.01 1171.22 903.65 1173.92 904.28C1176.63 904.92 1181.08 905.87 1182.51 906.19" fill="none" stroke="#d9602a" stroke-width="1.05" stroke-linejoin="round"/>
<path d="M978.31 882.34C979.11 877.41 981.49 864.05 983.08 852.76C984.67 841.46 986.26 828.26 987.85 814.59C989.45 800.91 991.04 782.46 992.63 770.69C994.22 758.93 995.81 750.18 997.4 743.98C998.99 737.77 1000.42 736.18 1002.17 733.48C1003.92 730.78 1006.14 727.91 1007.89 727.76C1009.64 727.6 1011.07 729.82 1012.66 732.53C1014.25 735.23 1015.69 740.48 1017.44 743.98C1019.18 747.48 1021.25 750.97 1023.16 753.52C1025.07 756.06 1026.98 757.34 1028.89 759.24C1030.79 761.15 1032.7 762.11 1034.61 764.97C1036.52 767.83 1038.43 770.69 1040.34 776.42C1042.24 782.15 1044.15 790.41 1046.06 799.32C1047.97 808.23 1049.88 820.95 1051.79 829.85C1053.69 838.76 1055.6 847.35 1057.51 852.76C1059.42 858.16 1061.49 859.91 1063.24 862.3C1064.99 864.68 1066.42 864.52 1068.01 867.07C1069.6 869.61 1071.03 873.91 1072.78 877.56C1074.53 881.22 1076.28 885.83 1078.5 889.02C1080.73 892.2 1083.59 894.9 1086.14 896.65C1088.68 898.4 1091.23 898.56 1093.77 899.51C1096.32 900.47 1098.86 901.64 1101.4 902.37C1103.95 903.11 1106.81 903.58 1109.04 903.9C1111.26 904.22 1113.81 904.22 1114.76 904.28" fill="none" stroke="#2e9e55" stroke-width="1.05" stroke-linejoin="round"/>
<path d="M975.07 886.15C975.77 880.59 977.87 864.68 979.27 852.76C980.67 840.83 982.03 827.31 983.47 814.59C984.9 801.87 986.33 786.92 987.85 776.42C989.38 765.92 991.04 757.34 992.63 751.61C994.22 745.89 995.81 745.25 997.4 742.07C998.99 738.89 1000.42 736.98 1002.17 732.53C1003.92 728.07 1006.14 719.17 1007.89 715.35C1009.64 711.53 1011.07 708.99 1012.66 709.63C1014.25 710.26 1015.69 713.76 1017.44 719.17C1019.18 724.58 1021.25 734.44 1023.16 742.07C1025.07 749.7 1026.98 756.7 1028.89 764.97C1030.79 773.24 1032.7 782.78 1034.61 791.69C1036.52 800.59 1038.43 810.45 1040.34 818.4C1042.24 826.36 1044.15 833.04 1046.06 839.4C1047.97 845.76 1049.88 851.48 1051.79 856.57C1053.69 861.66 1055.6 865.48 1057.51 869.93C1059.42 874.38 1061.33 880.11 1063.24 883.29C1065.15 886.47 1067.05 887.11 1068.96 889.02C1070.87 890.92 1072.78 892.83 1074.69 894.74C1076.6 896.65 1078.5 898.88 1080.41 900.47C1082.32 902.06 1084.39 903.49 1086.14 904.28C1087.89 905.08 1090.11 905.08 1090.91 905.24" fill="none" stroke="#7570b3" stroke-width="1.05" stroke-linejoin="round"/>
</g>
<rect x="964.5" y="681.75" width="228" height="225.5" fill="none" stroke="#6a6a6a" stroke-width="1"/>
<text x="993.75" y="916.75" text-anchor="middle" font-size="6.4" textLength="9.86" lengthAdjust="spacingAndGlyphs">0.2</text>
<text x="1042.5" y="916.75" text-anchor="middle" font-size="6.4" textLength="9.86" lengthAdjust="spacingAndGlyphs">0.4</text>
<text x="1091.25" y="916.75" text-anchor="middle" font-size="6.4" textLength="9.86" lengthAdjust="spacingAndGlyphs">0.6</text>
<text x="1140" y="916.75" text-anchor="middle" font-size="6.4" textLength="9.86" lengthAdjust="spacingAndGlyphs">0.8</text>
<text x="1188.75" y="916.75" text-anchor="middle" font-size="6.4" textLength="9.86" lengthAdjust="spacingAndGlyphs">1.0</text>
<text x="960.3" y="910.1" text-anchor="end" font-size="6.4" textLength="3.94" lengthAdjust="spacingAndGlyphs">0</text>
<text x="960.3" y="865.1" text-anchor="end" font-size="6.4" textLength="3.94" lengthAdjust="spacingAndGlyphs">1</text>
<text x="960.3" y="820.1" text-anchor="end" font-size="6.4" textLength="3.94" lengthAdjust="spacingAndGlyphs">2</text>
<text x="960.3" y="775.1" text-anchor="end" font-size="6.4" textLength="3.94" lengthAdjust="spacingAndGlyphs">3</text>
<text x="960.3" y="730.1" text-anchor="end" font-size="6.4" textLength="3.94" lengthAdjust="spacingAndGlyphs">4</text>
<text x="960.3" y="685.1" text-anchor="end" font-size="6.4" textLength="3.94" lengthAdjust="spacingAndGlyphs">5</text>
<path d="M993.75 907.25v2.1M1042.5 907.25v2.1M1091.25 907.25v2.1M1140 907.25v2.1M1188.75 907.25v2.1M964.5 907.25h-2.1M964.5 862.25h-2.1M964.5 817.25h-2.1M964.5 772.25h-2.1M964.5 727.25h-2.1M964.5 682.25h-2.1" stroke="#333" stroke-width="0.8"/>
<text x="1078.5" y="929.55" text-anchor="middle" font-size="13.4" textLength="22.53" lengthAdjust="spacingAndGlyphs">F11</text>
<text transform="translate(952.75 796.4) rotate(-90)" x="0" y="0" text-anchor="middle" font-size="13.4" textLength="46.38" lengthAdjust="spacingAndGlyphs">Density</text>
<rect x="1066.75" y="688" width="120.1" height="58.1" rx="2" fill="#fff" fill-opacity="0.8" stroke="#dcdcdc" stroke-width="0.9"/>
<rect x="1072.05" y="693.8" width="24.3" height="8.6" fill="#e14e12" fill-opacity="0.3"/>
<text x="1106.35" y="702.5" font-size="12.9" textLength="43.07" lengthAdjust="spacingAndGlyphs">Glioma</text>
<rect x="1072.05" y="712.1" width="24.3" height="8.6" fill="#2da255" fill-opacity="0.3"/>
<text x="1106.35" y="720.7" font-size="12.9" textLength="74.86" lengthAdjust="spacingAndGlyphs">Meningioma</text>
<rect x="1072.05" y="730.4" width="24.3" height="8.6" fill="#7570b3" fill-opacity="0.3"/>
<text x="1106.35" y="738.9" font-size="12.9" textLength="60.17" lengthAdjust="spacingAndGlyphs">Pit. tumor</text>
<text class="cb" x="978.9" y="966.7" font-size="17.6" textLength="23" lengthAdjust="spacingAndGlyphs">(l)</text>
<text class="cb" x="1010.5" y="966.7" font-size="17.6" textLength="43.8" lengthAdjust="spacingAndGlyphs">F11:</text>
<text class="ci" x="1062.9" y="966.7" font-size="17.6" textLength="95.15" lengthAdjust="spacingAndGlyphs">Uniformity</text>
<clipPath id="cm"><rect x="354.25" y="1017.5" width="217" height="224.5"/></clipPath>
<g clip-path="url(#cm)">
<path d="M380.67 1240.8H388.55V1242H380.67ZM388.55 1237.89H396.43V1242H388.55ZM396.43 1230.81H404.32V1242H396.43ZM404.32 1224.99H412.2V1242H404.32ZM412.2 1213.19H420.09V1242H412.2ZM420.09 1217H427.97V1242H420.09ZM427.97 1217H435.85V1242H427.97ZM435.85 1213.19H443.74V1242H435.85ZM443.74 1224.63H451.62V1242H443.74ZM451.62 1215.37H459.5V1242H451.62ZM459.5 1215.37H467.39V1242H459.5ZM467.39 1222.45H475.27V1242H467.39ZM475.27 1220.45H483.16V1242H475.27ZM483.16 1224.99H491.04V1242H483.16ZM491.04 1204.1H498.92V1242H491.04ZM498.92 1224.99H506.81V1242H498.92ZM506.81 1219.54H514.69V1242H506.81ZM514.69 1224.08H522.57V1242H514.69ZM522.57 1225.9H530.46V1242H522.57ZM530.46 1237.71H538.34V1242H530.46ZM538.34 1234.98H546.23V1242H538.34ZM546.23 1239.52H554.11V1242H546.23Z" fill="#e14e12" fill-opacity="0.3"/>
<path d="M380.67 1241.34H388.55V1242H380.67ZM396.43 1229.17H404.32V1242H396.43ZM404.32 1236.62H412.2V1242H404.32ZM412.2 1227.54H420.09V1242H412.2ZM420.09 1224.99H427.97V1242H420.09ZM427.97 1199.92H435.85V1242H427.97ZM435.85 1194.11H443.74V1242H435.85ZM443.74 1210.46H451.62V1242H443.74ZM451.62 1221.72H459.5V1242H451.62ZM459.5 1229.17H467.39V1242H459.5ZM467.39 1223.36H475.27V1242H467.39ZM475.27 1210.46H483.16V1242H475.27ZM483.16 1218.63H491.04V1242H483.16ZM491.04 1216.82H498.92V1242H491.04ZM498.92 1217.73H506.81V1242H498.92ZM506.81 1221.36H514.69V1242H506.81ZM514.69 1214.09H522.57V1242H514.69ZM522.57 1223.18H530.46V1242H522.57ZM530.46 1229.53H538.34V1242H530.46ZM538.34 1234.08H546.23V1242H538.34ZM546.23 1231.35H554.11V1242H546.23ZM554.11 1237.71H561.99V1242H554.11Z" fill="#2da255" fill-opacity="0.3"/>
<path d="M364.9 1240.8H372.78V1242H364.9ZM372.78 1237.71H380.67V1242H372.78ZM380.67 1240.8H388.55V1242H380.67ZM420.09 1224.99H427.97V1242H420.09ZM427.97 1199.92H435.85V1242H427.97ZM435.85 1195.75H443.74V1242H435.85ZM443.74 1210.46H451.62V1242H443.74ZM451.62 1168.14H459.5V1242H451.62ZM459.5 1085.66H467.39V1242H459.5ZM467.39 1200.11H475.27V1242H467.39Z" fill="#7570b3" fill-opacity="0.3"/>
<path d="M381.25 1241.34C382.76 1240.74 387.61 1239.22 390.33 1237.71C393.06 1236.19 395.17 1234.23 397.6 1232.26C400.02 1230.29 402.44 1228.02 404.86 1225.9C407.28 1223.78 409.71 1221.15 412.13 1219.54C414.55 1217.94 416.97 1216.88 419.4 1216.27C421.82 1215.67 424.24 1215.82 426.66 1215.91C429.08 1216 431.81 1216.52 433.93 1216.82C436.05 1217.12 437.56 1217.48 439.38 1217.73C441.19 1217.97 443.01 1218.18 444.83 1218.27C446.64 1218.36 448.46 1218.36 450.28 1218.27C452.09 1218.18 453.61 1217.97 455.73 1217.73C457.84 1217.48 460.57 1216.97 462.99 1216.82C465.41 1216.67 467.84 1216.82 470.26 1216.82C472.68 1216.82 475.4 1216.97 477.52 1216.82C479.64 1216.67 481.16 1216.36 482.97 1215.91C484.79 1215.46 486.61 1214.55 488.42 1214.09C490.24 1213.64 492.06 1213.03 493.87 1213.19C495.69 1213.34 497.2 1214.09 499.32 1215C501.44 1215.91 504.17 1217.42 506.59 1218.63C509.01 1219.85 511.43 1221.06 513.85 1222.27C516.28 1223.48 518.7 1224.69 521.12 1225.9C523.54 1227.11 525.96 1228.32 528.39 1229.53C530.81 1230.75 533.23 1231.96 535.65 1233.17C538.08 1234.38 540.5 1235.74 542.92 1236.8C545.34 1237.86 548.97 1239.07 550.19 1239.52" fill="none" stroke="#d9602a" stroke-width="1.05" stroke-linejoin="round"/>
<path d="M372.17 1240.43C373.68 1240.28 378.22 1240.13 381.25 1239.52C384.28 1238.92 387.3 1238.01 390.33 1236.8C393.36 1235.59 396.39 1233.77 399.41 1232.26C402.44 1230.75 405.77 1229.38 408.5 1227.72C411.22 1226.05 413.34 1224.24 415.76 1222.27C418.18 1220.3 420.91 1217.88 423.03 1215.91C425.15 1213.94 426.66 1211.82 428.48 1210.46C430.29 1209.1 432.11 1208.19 433.93 1207.74C435.74 1207.28 437.56 1207.28 439.38 1207.74C441.19 1208.19 443.01 1209.25 444.83 1210.46C446.64 1211.67 448.46 1213.64 450.28 1215C452.09 1216.36 453.91 1217.58 455.73 1218.63C457.54 1219.69 459.36 1220.91 461.18 1221.36C462.99 1221.81 464.81 1221.51 466.62 1221.36C468.44 1221.21 470.26 1220.66 472.07 1220.45C473.89 1220.24 475.4 1220.15 477.52 1220.09C479.64 1220.03 482.37 1220.09 484.79 1220.09C487.21 1220.09 489.63 1220.09 492.06 1220.09C494.48 1220.09 496.9 1220.03 499.32 1220.09C501.74 1220.15 504.17 1220.15 506.59 1220.45C509.01 1220.75 511.43 1221.3 513.85 1221.9C516.28 1222.51 518.7 1223.12 521.12 1224.08C523.54 1225.05 525.96 1226.51 528.39 1227.72C530.81 1228.93 533.23 1230.29 535.65 1231.35C538.08 1232.41 540.5 1233.32 542.92 1234.08C545.34 1234.83 548.07 1235.29 550.19 1235.89C552.3 1236.5 553.82 1237.1 555.63 1237.71C557.45 1238.31 560.18 1239.22 561.08 1239.52" fill="none" stroke="#2e9e55" stroke-width="1.05" stroke-linejoin="round"/>
<path d="M364.9 1240.43C365.81 1240.37 368.53 1240.43 370.35 1240.07C372.17 1239.71 374.28 1238.44 375.8 1238.25C377.31 1238.07 377.92 1238.47 379.43 1238.98C380.95 1239.49 383.06 1240.8 384.88 1241.34C386.7 1241.89 387.61 1242.1 390.33 1242.25C393.06 1242.4 398.2 1242.31 401.23 1242.25C404.26 1242.19 406.38 1242.79 408.5 1241.89C410.62 1240.98 412.13 1239.46 413.95 1236.8C415.76 1234.14 417.58 1230.14 419.4 1225.9C421.21 1221.66 423.03 1215.91 424.84 1211.37C426.66 1206.83 428.78 1201.38 430.29 1198.65C431.81 1195.93 432.72 1195.17 433.93 1195.02C435.14 1194.87 436.35 1196.53 437.56 1197.74C438.77 1198.96 439.98 1201.23 441.19 1202.29C442.4 1203.35 443.62 1205.01 444.83 1204.1C446.04 1203.19 447.25 1200.77 448.46 1196.84C449.67 1192.9 450.88 1187.75 452.09 1180.49C453.3 1173.22 454.51 1162.32 455.73 1153.24C456.94 1144.16 458.3 1132.2 459.36 1125.99C460.42 1119.79 461.18 1116.91 462.08 1116C462.99 1115.09 463.9 1116.46 464.81 1120.54C465.72 1124.63 466.62 1132.65 467.53 1140.52C468.44 1148.4 469.35 1158.39 470.26 1167.77C471.17 1177.16 472.14 1188.66 472.98 1196.84C473.83 1205.01 474.59 1211.22 475.34 1216.82C476.1 1222.42 477.16 1228.17 477.52 1230.44" fill="none" stroke="#7570b3" stroke-width="1.05" stroke-linejoin="round"/>
</g>
<rect x="354.25" y="1017.5" width="217" height="224.5" fill="none" stroke="#6a6a6a" stroke-width="1"/>
<text x="359.25" y="1251.5" text-anchor="middle" font-size="6.4" textLength="11.83" lengthAdjust="spacingAndGlyphs">100</text>
<text x="392.79" y="1251.5" text-anchor="middle" font-size="6.4" textLength="11.83" lengthAdjust="spacingAndGlyphs">150</text>
<text x="426.33" y="1251.5" text-anchor="middle" font-size="6.4" textLength="11.83" lengthAdjust="spacingAndGlyphs">200</text>
<text x="459.88" y="1251.5" text-anchor="middle" font-size="6.4" textLength="11.83" lengthAdjust="spacingAndGlyphs">250</text>
<text x="493.42" y="1251.5" text-anchor="middle" font-size="6.4" textLength="11.83" lengthAdjust="spacingAndGlyphs">300</text>
<text x="526.96" y="1251.5" text-anchor="middle" font-size="6.4" textLength="11.83" lengthAdjust="spacingAndGlyphs">350</text>
<text x="560.5" y="1251.5" text-anchor="middle" font-size="6.4" textLength="11.83" lengthAdjust="spacingAndGlyphs">400</text>
<text x="350.05" y="1244.85" text-anchor="end" font-size="6.4" textLength="17.74" lengthAdjust="spacingAndGlyphs">0.000</text>
<text x="350.05" y="1219.96" text-anchor="end" font-size="6.4" textLength="17.74" lengthAdjust="spacingAndGlyphs">0.005</text>
<text x="350.05" y="1195.07" text-anchor="end" font-size="6.4" textLength="17.74" lengthAdjust="spacingAndGlyphs">0.010</text>
<text x="350.05" y="1170.18" text-anchor="end" font-size="6.4" textLength="17.74" lengthAdjust="spacingAndGlyphs">0.015</text>
<text x="350.05" y="1145.29" text-anchor="end" font-size="6.4" textLength="17.74" lengthAdjust="spacingAndGlyphs">0.020</text>
<text x="350.05" y="1120.41" text-anchor="end" font-size="6.4" textLength="17.74" lengthAdjust="spacingAndGlyphs">0.025</text>
<text x="350.05" y="1095.52" text-anchor="end" font-size="6.4" textLength="17.74" lengthAdjust="spacingAndGlyphs">0.030</text>
<text x="350.05" y="1070.63" text-anchor="end" font-size="6.4" textLength="17.74" lengthAdjust="spacingAndGlyphs">0.035</text>
<text x="350.05" y="1045.74" text-anchor="end" font-size="6.4" textLength="17.74" lengthAdjust="spacingAndGlyphs">0.040</text>
<text x="350.05" y="1020.85" text-anchor="end" font-size="6.4" textLength="17.74" lengthAdjust="spacingAndGlyphs">0.045</text>
<path d="M359.25 1242v2.1M392.79 1242v2.1M426.33 1242v2.1M459.88 1242v2.1M493.42 1242v2.1M526.96 1242v2.1M560.5 1242v2.1M354.25 1242h-2.1M354.25 1217.11h-2.1M354.25 1192.22h-2.1M354.25 1167.33h-2.1M354.25 1142.44h-2.1M354.25 1117.56h-2.1M354.25 1092.67h-2.1M354.25 1067.78h-2.1M354.25 1042.89h-2.1M354.25 1018h-2.1" stroke="#333" stroke-width="0.8"/>
<text x="462.75" y="1264.3" text-anchor="middle" font-size="13.4" textLength="22.53" lengthAdjust="spacingAndGlyphs">F12</text>
<text transform="translate(329.5 1131.65) rotate(-90)" x="0" y="0" text-anchor="middle" font-size="13.4" textLength="46.38" lengthAdjust="spacingAndGlyphs">Density</text>
<rect x="444.5" y="1023.75" width="120.1" height="58.1" rx="2" fill="#fff" fill-opacity="0.8" stroke="#dcdcdc" stroke-width="0.9"/>
<rect x="449.8" y="1029.55" width="24.3" height="8.6" fill="#e14e12" fill-opacity="0.3"/>
<text x="484.1" y="1038.25" font-size="12.9" textLength="43.07" lengthAdjust="spacingAndGlyphs">Glioma</text>
<rect x="449.8" y="1047.85" width="24.3" height="8.6" fill="#2da255" fill-opacity="0.3"/>
<text x="484.1" y="1056.45" font-size="12.9" textLength="74.86" lengthAdjust="spacingAndGlyphs">Meningioma</text>
<rect x="449.8" y="1066.15" width="24.3" height="8.6" fill="#7570b3" fill-opacity="0.3"/>
<text x="484.1" y="1074.65" font-size="12.9" textLength="60.17" lengthAdjust="spacingAndGlyphs">Pit. tumor</text>
<text class="cb" x="340.65" y="1302.7" font-size="17.6" textLength="36" lengthAdjust="spacingAndGlyphs">(m)</text>
<text class="cb" x="385.25" y="1302.7" font-size="17.6" textLength="43.8" lengthAdjust="spacingAndGlyphs">F12:</text>
<text class="ci" x="437.65" y="1302.7" font-size="17.6" textLength="110.4" lengthAdjust="spacingAndGlyphs">Centroid <tspan dy="-0.3">-</tspan><tspan dy="0.3"> X</tspan></text>
<clipPath id="cn"><rect x="670" y="1017.5" width="213" height="224.5"/></clipPath>
<g clip-path="url(#cn)">
<path d="M687.39 1239.04H695.11V1242H687.39ZM695.11 1233.69H702.83V1242H695.11ZM702.83 1233.69H710.56V1242H702.83ZM710.56 1233.69H718.28V1242H710.56ZM718.28 1222.99H726V1242H718.28ZM726 1201.95H733.72V1242H726ZM733.72 1176.98H741.45V1242H733.72ZM741.45 1177.87H749.17V1242H741.45ZM749.17 1183.04H756.89V1242H749.17ZM756.89 1169.49H764.61V1242H756.89ZM764.61 1172.52H772.34V1242H764.61ZM772.34 1147.19H780.06V1242H772.34ZM780.06 1172.52H787.78V1242H780.06ZM787.78 1182.51H795.5V1242H787.78ZM795.5 1194.46H803.23V1242H795.5ZM803.23 1193.03H810.95V1242H803.23ZM810.95 1203.02H818.67V1242H810.95ZM818.67 1229.06H826.39V1242H818.67ZM826.39 1229.95H834.12V1242H826.39ZM834.12 1232.98H841.84V1242H834.12ZM841.84 1239.04H849.56V1242H841.84ZM849.56 1239.58H857.28V1242H849.56Z" fill="#e14e12" fill-opacity="0.3"/>
<path d="M687.39 1234.23H695.11V1242H687.39ZM695.11 1228.34H702.83V1242H695.11ZM702.83 1212.29H710.56V1242H702.83ZM710.56 1185H718.28V1242H710.56ZM718.28 1219.96H726V1242H718.28ZM726 1200.52H733.72V1242H726ZM733.72 1195.53H741.45V1242H733.72ZM741.45 1195.53H749.17V1242H741.45ZM749.17 1162.89H756.89V1242H749.17ZM756.89 1183.93H764.61V1242H756.89ZM764.61 1206.05H772.34V1242H764.61ZM772.34 1218.89H780.06V1242H772.34ZM780.06 1193.92H787.78V1242H780.06ZM787.78 1213H795.5V1242H787.78ZM795.5 1204.44H803.23V1242H795.5ZM803.23 1208.9H810.95V1242H803.23ZM810.95 1203.02H818.67V1242H810.95ZM818.67 1190H826.39V1242H818.67ZM826.39 1185H834.12V1242H826.39ZM834.12 1204.98H841.84V1242H834.12ZM841.84 1239.04H849.56V1242H841.84ZM849.56 1239.94H857.28V1242H849.56ZM857.28 1227.09H865.01V1242H857.28ZM865.01 1238.15H872.73V1242H865.01Z" fill="#2da255" fill-opacity="0.3"/>
<path d="M687.39 1239.94H695.11V1242H687.39ZM695.11 1239.04H702.83V1242H695.11ZM702.83 1239.94H710.56V1242H702.83ZM710.56 1239.04H718.28V1242H710.56ZM718.28 1239.94H726V1242H718.28ZM726 1231.91H733.72V1242H726ZM733.72 1237.44H741.45V1242H733.72ZM741.45 1229.06H749.17V1242H741.45ZM749.17 1226.02H756.89V1242H749.17ZM756.89 1155.04H764.61V1242H756.89ZM764.61 1122.23H772.34V1242H764.61ZM772.34 1203.91H780.06V1242H772.34ZM780.06 1206.05H787.78V1242H780.06ZM787.78 1122.23H795.5V1242H787.78ZM795.5 1133.82H803.23V1242H795.5ZM803.23 1157.9H810.95V1242H803.23ZM810.95 1172.52H818.67V1242H810.95ZM818.67 1184.47H826.39V1242H818.67ZM826.39 1193.92H834.12V1242H826.39ZM834.12 1232.8H841.84V1242H834.12ZM841.84 1239.94H849.56V1242H841.84Z" fill="#7570b3" fill-opacity="0.3"/>
<path d="M693.19 1238.51C694.08 1238.15 696.46 1237.02 698.54 1236.37C700.62 1235.71 703.29 1235.48 705.67 1234.59C708.05 1233.69 710.72 1232.5 712.8 1231.02C714.88 1229.53 716.37 1228.34 718.15 1225.67C719.94 1222.99 721.72 1218.53 723.5 1214.97C725.29 1211.4 727.07 1207.98 728.86 1204.27C730.64 1200.55 732.42 1195.79 734.21 1192.67C735.99 1189.55 737.77 1187.62 739.56 1185.54C741.34 1183.46 743.12 1181.53 744.91 1180.19C746.69 1178.85 748.47 1178.55 750.26 1177.51C752.04 1176.47 753.82 1175.14 755.61 1173.95C757.39 1172.76 759.17 1171.57 760.96 1170.38C762.74 1169.19 764.52 1167.94 766.31 1166.81C768.09 1165.68 769.88 1164.35 771.66 1163.6C773.44 1162.86 775.23 1162.12 777.01 1162.35C778.79 1162.59 780.58 1163.69 782.36 1165.03C784.14 1166.37 785.93 1168.3 787.71 1170.38C789.49 1172.46 791.28 1175.14 793.06 1177.51C794.84 1179.89 796.63 1182.42 798.41 1184.65C800.19 1186.88 801.98 1189.11 803.76 1190.89C805.54 1192.67 807.33 1193.71 809.11 1195.35C810.9 1196.98 812.68 1198.32 814.46 1200.7C816.25 1203.08 818.03 1206.35 819.81 1209.62C821.6 1212.89 823.38 1217.49 825.16 1220.32C826.95 1223.14 828.73 1224.92 830.51 1226.56C832.3 1228.19 834.08 1228.94 835.86 1230.13C837.65 1231.32 839.43 1232.5 841.21 1233.69C843 1234.88 844.78 1236.22 846.57 1237.26C848.35 1238.3 850.13 1239.4 851.92 1239.94C853.7 1240.47 856.37 1240.38 857.27 1240.47" fill="none" stroke="#d9602a" stroke-width="1.05" stroke-linejoin="round"/>
<path d="M679.81 1239.04C681.15 1237.71 685.31 1234.14 687.83 1231.02C690.36 1227.9 692.59 1223.59 694.97 1220.32C697.35 1217.05 699.72 1213.78 702.1 1211.4C704.48 1209.02 706.86 1207.39 709.24 1206.05C711.61 1204.71 713.99 1204.27 716.37 1203.37C718.75 1202.48 721.13 1201.89 723.5 1200.7C725.88 1199.51 728.26 1197.73 730.64 1196.24C733.02 1194.75 735.39 1192.97 737.77 1191.78C740.15 1190.59 742.83 1189.76 744.91 1189.11C746.99 1188.45 748.47 1187.86 750.26 1187.86C752.04 1187.86 753.82 1188.16 755.61 1189.11C757.39 1190.06 759.17 1191.93 760.96 1193.57C762.74 1195.2 764.52 1197.28 766.31 1198.92C768.09 1200.55 769.88 1202.33 771.66 1203.37C773.44 1204.41 775.23 1204.77 777.01 1205.16C778.79 1205.54 780.58 1205.6 782.36 1205.69C784.14 1205.78 785.93 1205.78 787.71 1205.69C789.49 1205.6 791.28 1205.45 793.06 1205.16C794.84 1204.86 796.63 1204.5 798.41 1203.91C800.19 1203.31 801.98 1202.27 803.76 1201.59C805.54 1200.91 807.33 1200.4 809.11 1199.81C810.9 1199.21 812.68 1198.32 814.46 1198.02C816.25 1197.73 818.33 1197.88 819.81 1198.02C821.3 1198.17 822.19 1198.32 823.38 1198.92C824.57 1199.51 825.76 1200.4 826.95 1201.59C828.14 1202.78 829.03 1203.82 830.51 1206.05C832 1208.28 834.08 1211.99 835.86 1214.97C837.65 1217.94 839.13 1221.21 841.21 1223.88C843.3 1226.56 845.97 1229.23 848.35 1231.02C850.73 1232.8 853.1 1233.63 855.48 1234.59C857.86 1235.54 860.54 1236.13 862.62 1236.73C864.7 1237.32 866.18 1237.77 867.97 1238.15C869.75 1238.54 872.43 1238.9 873.32 1239.04" fill="none" stroke="#2e9e55" stroke-width="1.05" stroke-linejoin="round"/>
<path d="M701.21 1239.94C702.55 1240.08 706.71 1240.83 709.24 1240.83C711.76 1240.83 713.99 1240.53 716.37 1239.94C718.75 1239.34 721.42 1238 723.5 1237.26C725.59 1236.52 727.07 1236.07 728.86 1235.48C730.64 1234.88 732.42 1234.73 734.21 1233.69C735.99 1232.65 737.77 1231.46 739.56 1229.23C741.34 1227.01 743.12 1224.48 744.91 1220.32C746.69 1216.16 748.47 1210.81 750.26 1204.27C752.04 1197.73 753.82 1187.92 755.61 1181.08C757.39 1174.24 759.47 1167.41 760.96 1163.25C762.44 1159.08 763.34 1157.75 764.52 1156.11C765.71 1154.48 766.9 1152.84 768.09 1153.44C769.28 1154.03 770.47 1156.26 771.66 1159.68C772.85 1163.1 774.04 1169.79 775.23 1173.95C776.41 1178.11 777.75 1182.57 778.79 1184.65C779.83 1186.73 780.43 1187.03 781.47 1186.43C782.51 1185.84 783.85 1184.05 785.03 1181.08C786.22 1178.11 787.26 1173.65 788.6 1168.6C789.94 1163.54 791.57 1156.11 793.06 1150.76C794.55 1145.41 796.18 1138.57 797.52 1136.49C798.86 1134.41 799.75 1136.49 801.09 1138.28C802.42 1140.06 803.91 1143.92 805.54 1147.19C807.18 1150.46 809.11 1154.33 810.9 1157.9C812.68 1161.46 814.46 1165.03 816.25 1168.6C818.03 1172.16 819.81 1175.43 821.6 1179.3C823.38 1183.16 825.16 1187.32 826.95 1191.78C828.73 1196.24 830.51 1201 832.3 1206.05C834.08 1211.1 836.16 1217.49 837.65 1222.1C839.13 1226.71 840.62 1231.76 841.21 1233.69" fill="none" stroke="#7570b3" stroke-width="1.05" stroke-linejoin="round"/>
</g>
<rect x="670" y="1017.5" width="213" height="224.5" fill="none" stroke="#6a6a6a" stroke-width="1"/>
<text x="673" y="1251.5" text-anchor="middle" font-size="6.4" textLength="7.89" lengthAdjust="spacingAndGlyphs">50</text>
<text x="701.86" y="1251.5" text-anchor="middle" font-size="6.4" textLength="11.83" lengthAdjust="spacingAndGlyphs">100</text>
<text x="730.71" y="1251.5" text-anchor="middle" font-size="6.4" textLength="11.83" lengthAdjust="spacingAndGlyphs">150</text>
<text x="759.57" y="1251.5" text-anchor="middle" font-size="6.4" textLength="11.83" lengthAdjust="spacingAndGlyphs">200</text>
<text x="788.43" y="1251.5" text-anchor="middle" font-size="6.4" textLength="11.83" lengthAdjust="spacingAndGlyphs">250</text>
<text x="817.29" y="1251.5" text-anchor="middle" font-size="6.4" textLength="11.83" lengthAdjust="spacingAndGlyphs">300</text>
<text x="846.14" y="1251.5" text-anchor="middle" font-size="6.4" textLength="11.83" lengthAdjust="spacingAndGlyphs">350</text>
<text x="875" y="1251.5" text-anchor="middle" font-size="6.4" textLength="11.83" lengthAdjust="spacingAndGlyphs">400</text>
<text x="665.8" y="1244.85" text-anchor="end" font-size="6.4" textLength="21.69" lengthAdjust="spacingAndGlyphs">0.0000</text>
<text x="665.8" y="1216.85" text-anchor="end" font-size="6.4" textLength="21.69" lengthAdjust="spacingAndGlyphs">0.0025</text>
<text x="665.8" y="1188.85" text-anchor="end" font-size="6.4" textLength="21.69" lengthAdjust="spacingAndGlyphs">0.0050</text>
<text x="665.8" y="1160.85" text-anchor="end" font-size="6.4" textLength="21.69" lengthAdjust="spacingAndGlyphs">0.0075</text>
<text x="665.8" y="1132.85" text-anchor="end" font-size="6.4" textLength="21.69" lengthAdjust="spacingAndGlyphs">0.0100</text>
<text x="665.8" y="1104.85" text-anchor="end" font-size="6.4" textLength="21.69" lengthAdjust="spacingAndGlyphs">0.0125</text>
<text x="665.8" y="1076.85" text-anchor="end" font-size="6.4" textLength="21.69" lengthAdjust="spacingAndGlyphs">0.0150</text>
<text x="665.8" y="1048.85" text-anchor="end" font-size="6.4" textLength="21.69" lengthAdjust="spacingAndGlyphs">0.0175</text>
<text x="665.8" y="1020.85" text-anchor="end" font-size="6.4" textLength="21.69" lengthAdjust="spacingAndGlyphs">0.0200</text>
<path d="M673 1242v2.1M701.86 1242v2.1M730.71 1242v2.1M759.57 1242v2.1M788.43 1242v2.1M817.29 1242v2.1M846.14 1242v2.1M875 1242v2.1M670 1242h-2.1M670 1214h-2.1M670 1186h-2.1M670 1158h-2.1M670 1130h-2.1M670 1102h-2.1M670 1074h-2.1M670 1046h-2.1M670 1018h-2.1" stroke="#333" stroke-width="0.8"/>
<text x="776.5" y="1264.3" text-anchor="middle" font-size="13.4" textLength="22.53" lengthAdjust="spacingAndGlyphs">F13</text>
<text transform="translate(641 1131.65) rotate(-90)" x="0" y="0" text-anchor="middle" font-size="13.4" textLength="46.38" lengthAdjust="spacingAndGlyphs">Density</text>
<rect x="756.75" y="1023.75" width="120.1" height="58.1" rx="2" fill="#fff" fill-opacity="0.8" stroke="#dcdcdc" stroke-width="0.9"/>
<rect x="762.05" y="1029.55" width="24.3" height="8.6" fill="#e14e12" fill-opacity="0.3"/>
<text x="796.35" y="1038.25" font-size="12.9" textLength="43.07" lengthAdjust="spacingAndGlyphs">Glioma</text>
<rect x="762.05" y="1047.85" width="24.3" height="8.6" fill="#2da255" fill-opacity="0.3"/>
<text x="796.35" y="1056.45" font-size="12.9" textLength="74.86" lengthAdjust="spacingAndGlyphs">Meningioma</text>
<rect x="762.05" y="1066.15" width="24.3" height="8.6" fill="#7570b3" fill-opacity="0.3"/>
<text x="796.35" y="1074.65" font-size="12.9" textLength="60.17" lengthAdjust="spacingAndGlyphs">Pit. tumor</text>
<text class="cb" x="654.9" y="1302.7" font-size="17.6" textLength="28.9" lengthAdjust="spacingAndGlyphs">(n)</text>
<text class="cb" x="692.4" y="1302.7" font-size="17.6" textLength="43.8" lengthAdjust="spacingAndGlyphs">F13:</text>
<text class="ci" x="744.8" y="1302.7" font-size="17.6" textLength="112.5" lengthAdjust="spacingAndGlyphs">Centroid <tspan dy="-0.3">-</tspan><tspan dy="0.3"> Y</tspan></text>
</svg>
</body></html>
